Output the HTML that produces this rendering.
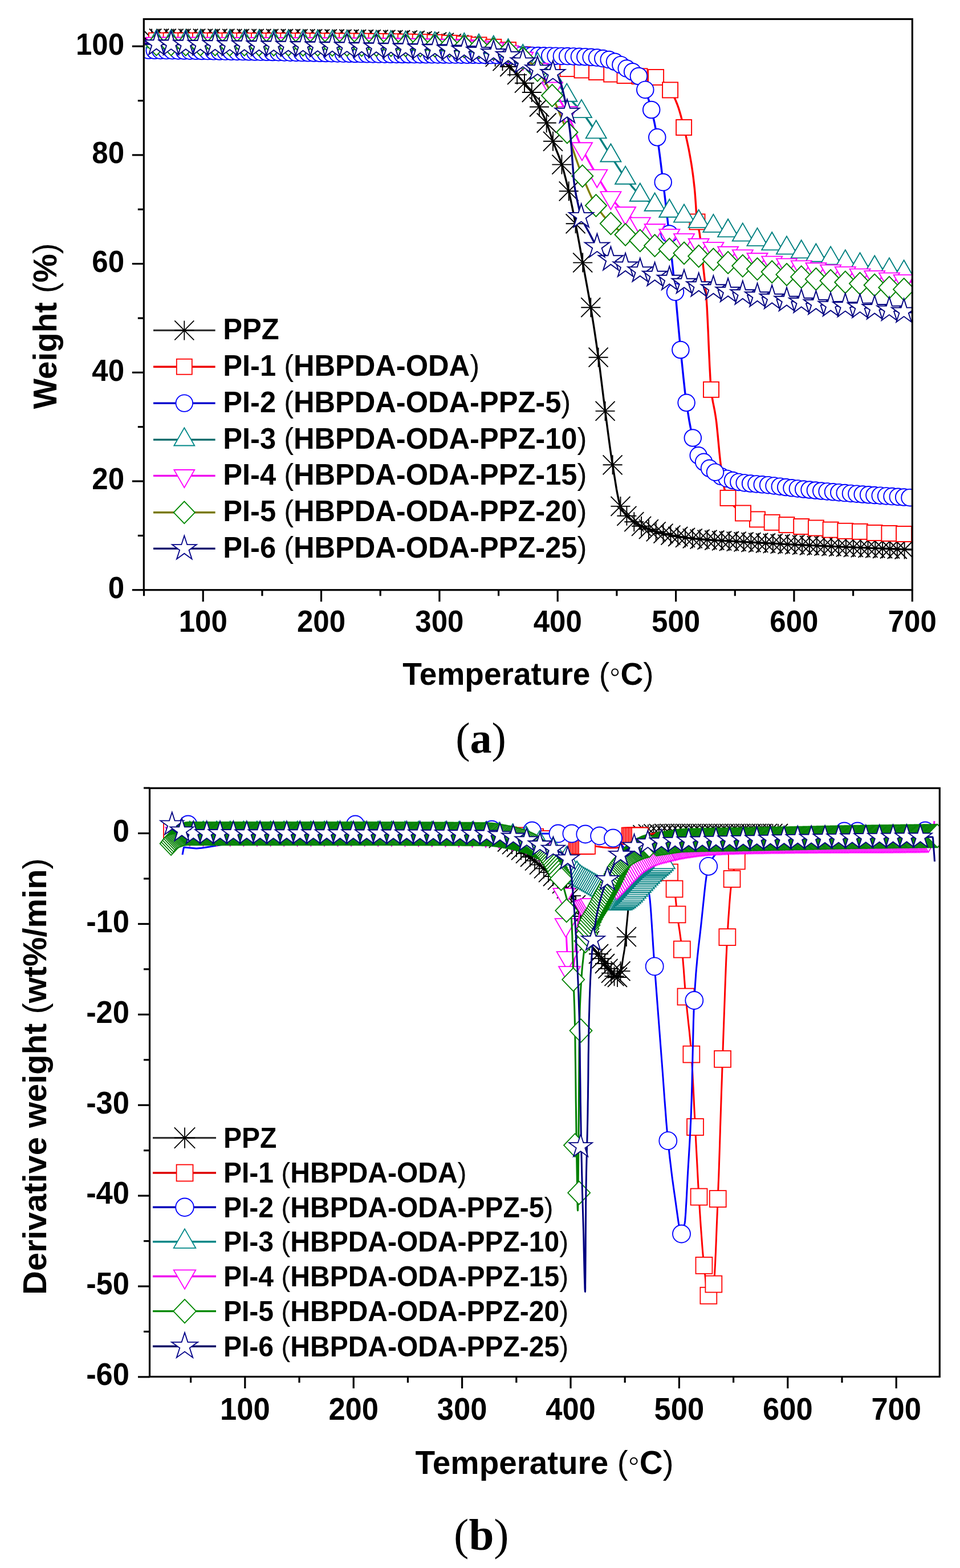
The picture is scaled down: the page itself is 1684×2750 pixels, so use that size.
<!DOCTYPE html>
<html><head><meta charset="utf-8"><title>TGA</title>
<style>html,body{margin:0;padding:0;background:#fff;} svg{display:block;}</style>
</head><body>
<svg width="1684" height="2750" viewBox="0 0 1684 2750" font-family="'Liberation Sans', Arial, sans-serif" font-weight="bold">
<rect width="1684" height="2750" fill="#fff"/><defs><g id="m0"><path d="M0.0 -17.0V17.0M-17.0 0.0H17.0M-17.0 -17.0L17.0 17.0M-17.0 17.0L17.0 -17.0" stroke="#000" stroke-width="1.9" fill="none"/></g><g id="m1"><rect x="-13.5" y="-13.5" width="27.0" height="27.0" fill="#fff" stroke="#f00" stroke-width="1.9"/></g><g id="m2"><circle cx="0.0" cy="0.0" r="14.8" fill="#fff" stroke="#00f" stroke-width="1.9"/></g><g id="m3"><polygon points="0.0,-20.8 18.0,10.4 -18.0,10.4" fill="#fff" stroke="#008080" stroke-width="1.9"/></g><g id="m4"><polygon points="0.0,20.8 18.0,-10.4 -18.0,-10.4" fill="#fff" stroke="#f0f" stroke-width="1.9"/></g><g id="m5"><polygon points="0.0,-19.4 18.6,0.0 0.0,19.4 -18.6,0.0" fill="#fff" stroke="#008000" stroke-width="1.9"/></g><g id="m6"><polygon points="0.0,-22.6 5.0,-6.9 21.5,-7.0 8.2,2.7 13.3,18.3 0.0,8.6 -13.3,18.3 -8.2,2.7 -21.5,-7.0 -5.0,-6.9" fill="#fff" stroke="#000080" stroke-width="1.9"/></g><g id="m7"><path d="M0.0 -17.0V17.0M-17.0 0.0H17.0M-17.0 -17.0L17.0 17.0M-17.0 17.0L17.0 -17.0" stroke="#000" stroke-width="1.8" fill="none"/></g><g id="m8"><rect x="-14.4" y="-14.4" width="28.9" height="28.9" fill="#fff" stroke="#f00" stroke-width="1.8"/></g><g id="m9"><circle cx="0.0" cy="0.0" r="15.5" fill="#fff" stroke="#00f" stroke-width="1.8"/></g><g id="m10"><polygon points="0.0,-21.8 18.9,10.9 -18.9,10.9" fill="#fff" stroke="#008080" stroke-width="1.8"/></g><g id="m11"><polygon points="0.0,21.8 18.9,-10.9 -18.9,-10.9" fill="#fff" stroke="#f0f" stroke-width="1.8"/></g><g id="m12"><polygon points="0.0,-20.4 19.5,0.0 0.0,20.4 -19.5,0.0" fill="#fff" stroke="#008000" stroke-width="1.8"/></g><g id="m13"><polygon points="0.0,-21.5 4.8,-6.6 20.4,-6.6 7.8,2.5 12.6,17.4 0.0,8.2 -12.6,17.4 -7.8,2.5 -20.4,-6.6 -4.8,-6.6" fill="#fff" stroke="#000080" stroke-width="1.8"/></g></defs><clipPath id="clipA"><rect x="254" y="35" width="1345" height="998"/></clipPath>
<g clip-path="url(#clipA)">
<path d="M254.0,67.5 278.0,67.5 302.0,67.6 326.0,67.6 350.0,67.7 374.0,67.7 398.0,67.7 422.0,67.8 446.0,67.8 470.0,67.9 494.0,68.0 500.0,68.0 518.0,68.1 542.0,68.2 566.0,68.3 590.0,68.5 614.0,68.7 638.0,69.0 662.0,69.4 686.0,69.7 700.0,70.0 710.0,70.3 734.0,71.4 758.0,73.0 780.0,75.0 782.0,75.2 806.0,78.7 830.0,84.0 842.0,87.8 854.0,92.8 865.0,98.0 878.0,105.0 884.5,109.2 891.0,114.0 896.5,119.2 902.0,125.3 905.8,129.6 919.8,145.5 926.0,152.9 929.9,157.8 933.7,163.4 936.8,168.7 939.9,174.7 946.0,187.5 950.0,195.8 954.4,205.2 958.7,215.5 961.5,223.1 964.4,231.3 970.0,247.8 974.0,258.3 979.7,272.5 982.5,280.2 985.4,288.6 988.5,298.9 991.5,310.3 994.6,322.5 997.7,335.3 998.0,336.6 1000.9,349.5 1003.8,363.3 1009.6,392.3 1012.7,408.5 1015.8,425.3 1022.0,459.5 1022.2,460.6 1029.2,498.9 1032.8,518.6 1036.3,539.2 1041.2,569.4 1043.6,585.2 1046.0,601.5 1049.6,626.7 1052.6,649.3 1055.6,673.2 1058.6,697.5 1061.6,720.9 1065.8,753.0 1070.0,784.5 1072.3,800.5 1074.6,815.3 1078.1,837.0 1081.5,858.1 1083.3,867.6 1085.0,875.9 1086.8,882.8 1088.5,887.9 1091.2,893.6 1094.0,898.2 1096.7,901.8 1099.4,904.8 1103.3,908.6 1107.2,911.7 1115.0,917.0 1118.0,918.9 1123.6,922.0 1129.2,924.7 1142.0,929.6 1159.0,934.6 1166.0,936.3 1190.0,941.2 1198.8,942.5 1214.0,944.3 1238.0,946.5 1238.6,946.5 1262.0,948.0 1286.0,949.3 1298.2,950.0 1310.0,950.7 1334.0,952.0 1358.0,953.3 1382.0,954.6 1400.0,955.5 1406.0,955.8 1430.0,956.9 1454.0,958.0 1478.0,959.1 1500.0,960.0 1502.0,960.1 1526.0,961.1 1550.0,962.0 1574.0,963.0 1598.0,963.9 1599.0,964.0" stroke="#000" stroke-width="3.4" fill="none" stroke-linejoin="round"/>
<use href="#m0" x="266.1" y="67.5"/><use href="#m0" x="279.0" y="67.5"/><use href="#m0" x="291.8" y="67.6"/><use href="#m0" x="304.6" y="67.6"/><use href="#m0" x="317.4" y="67.6"/><use href="#m0" x="330.2" y="67.6"/><use href="#m0" x="343.1" y="67.7"/><use href="#m0" x="355.9" y="67.7"/><use href="#m0" x="368.7" y="67.7"/><use href="#m0" x="381.5" y="67.7"/><use href="#m0" x="394.3" y="67.7"/><use href="#m0" x="407.2" y="67.8"/><use href="#m0" x="420.0" y="67.8"/><use href="#m0" x="432.8" y="67.8"/><use href="#m0" x="445.6" y="67.8"/><use href="#m0" x="458.4" y="67.9"/><use href="#m0" x="471.3" y="67.9"/><use href="#m0" x="484.1" y="67.9"/><use href="#m0" x="496.9" y="68.0"/><use href="#m0" x="509.7" y="68.0"/><use href="#m0" x="522.5" y="68.1"/><use href="#m0" x="535.4" y="68.1"/><use href="#m0" x="548.2" y="68.2"/><use href="#m0" x="561.0" y="68.3"/><use href="#m0" x="573.8" y="68.4"/><use href="#m0" x="586.6" y="68.5"/><use href="#m0" x="599.5" y="68.6"/><use href="#m0" x="612.3" y="68.7"/><use href="#m0" x="625.1" y="68.9"/><use href="#m0" x="637.9" y="69.0"/><use href="#m0" x="650.7" y="69.2"/><use href="#m0" x="663.6" y="69.4"/><use href="#m0" x="676.4" y="69.6"/><use href="#m0" x="689.2" y="69.8"/><use href="#m0" x="702.0" y="70.0"/><use href="#m0" x="714.8" y="70.4"/><use href="#m0" x="727.7" y="71.0"/><use href="#m0" x="740.5" y="71.8"/><use href="#m0" x="753.3" y="72.7"/><use href="#m0" x="766.1" y="73.7"/><use href="#m0" x="778.9" y="74.9"/><use href="#m0" x="791.8" y="76.4"/><use href="#m0" x="804.6" y="78.4"/><use href="#m0" x="817.4" y="81.0"/><use href="#m0" x="830.2" y="84.1"/><use href="#m0" x="843.0" y="88.2"/><use href="#m0" x="855.9" y="93.6"/><use href="#m0" x="868.7" y="99.8"/><use href="#m0" x="881.5" y="107.2"/><use href="#m0" x="894.3" y="117.0"/><use href="#m0" x="907.1" y="131.1"/><use href="#m0" x="920.0" y="145.7"/><use href="#m0" x="932.8" y="162.0"/><use href="#m0" x="1112.3" y="915.2"/><use href="#m0" x="1125.1" y="922.8"/><use href="#m0" x="1137.9" y="928.1"/><use href="#m0" x="1150.7" y="932.4"/><use href="#m0" x="1163.5" y="935.7"/><use href="#m0" x="1176.4" y="938.6"/><use href="#m0" x="1189.2" y="941.0"/><use href="#m0" x="1202.0" y="942.9"/><use href="#m0" x="1214.8" y="944.4"/><use href="#m0" x="1227.6" y="945.6"/><use href="#m0" x="1240.5" y="946.6"/><use href="#m0" x="1253.3" y="947.5"/><use href="#m0" x="1266.1" y="948.3"/><use href="#m0" x="1278.9" y="949.0"/><use href="#m0" x="1291.7" y="949.6"/><use href="#m0" x="1304.6" y="950.4"/><use href="#m0" x="1317.4" y="951.1"/><use href="#m0" x="1330.2" y="951.8"/><use href="#m0" x="1343.0" y="952.5"/><use href="#m0" x="1355.8" y="953.2"/><use href="#m0" x="1368.7" y="953.9"/><use href="#m0" x="1381.5" y="954.6"/><use href="#m0" x="1394.3" y="955.2"/><use href="#m0" x="1407.1" y="955.8"/><use href="#m0" x="1419.9" y="956.5"/><use href="#m0" x="1432.8" y="957.1"/><use href="#m0" x="1445.6" y="957.6"/><use href="#m0" x="1458.4" y="958.2"/><use href="#m0" x="1471.2" y="958.8"/><use href="#m0" x="1484.0" y="959.3"/><use href="#m0" x="1496.9" y="959.9"/><use href="#m0" x="1509.7" y="960.4"/><use href="#m0" x="1522.5" y="960.9"/><use href="#m0" x="1535.3" y="961.4"/><use href="#m0" x="1548.1" y="962.0"/><use href="#m0" x="1561.0" y="962.5"/><use href="#m0" x="1573.8" y="963.0"/><use href="#m0" x="1586.6" y="963.5"/><use href="#m0" x="946.0" y="187.5"/><use href="#m0" x="958.7" y="215.5"/><use href="#m0" x="970.0" y="247.8"/><use href="#m0" x="985.4" y="288.6"/><use href="#m0" x="997.7" y="335.3"/><use href="#m0" x="1009.6" y="392.3"/><use href="#m0" x="1022.2" y="460.6"/><use href="#m0" x="1036.3" y="539.2"/><use href="#m0" x="1049.6" y="626.7"/><use href="#m0" x="1061.6" y="720.9"/><use href="#m0" x="1074.6" y="815.3"/><use href="#m0" x="1088.5" y="887.9"/><use href="#m0" x="1099.4" y="904.8"/>
<path d="M254.0,71.0 278.0,71.1 302.0,71.1 326.0,71.2 350.0,71.2 374.0,71.3 398.0,71.3 422.0,71.4 446.0,71.4 470.0,71.5 494.0,71.6 518.0,71.7 542.0,71.7 566.0,71.8 590.0,71.9 600.0,72.0 614.0,72.1 638.0,72.3 662.0,72.5 686.0,72.8 710.0,73.2 734.0,73.7 750.0,74.0 758.0,74.2 782.0,75.1 806.0,76.3 830.0,78.0 854.0,80.6 878.0,84.6 880.0,85.0 891.0,87.5 902.0,90.7 926.0,98.7 930.0,100.0 950.0,107.2 970.0,114.0 974.0,115.2 985.0,118.3 996.0,120.6 998.0,120.9 1021.0,123.0 1022.0,123.1 1046.0,126.4 1046.5,126.5 1070.0,129.8 1072.7,130.1 1094.0,132.4 1096.0,132.5 1118.0,133.6 1122.0,133.8 1142.0,134.7 1150.6,135.5 1153.7,136.5 1156.8,138.4 1163.0,143.5 1166.0,146.2 1170.8,151.5 1175.6,157.9 1178.7,162.9 1181.8,168.7 1184.9,175.4 1188.0,183.0 1190.0,188.6 1192.4,196.3 1194.8,204.8 1199.6,223.5 1202.5,235.5 1205.4,248.4 1208.4,262.7 1209.8,270.4 1211.3,278.7 1212.7,286.9 1214.0,295.6 1215.1,303.2 1216.2,311.4 1217.2,320.3 1218.3,330.0 1218.9,336.3 1219.5,343.9 1220.7,360.9 1221.2,369.4 1221.8,377.3 1222.4,383.9 1223.0,389.0 1223.5,392.2 1224.0,394.9 1225.0,399.4 1226.1,403.6 1227.1,409.0 1227.9,414.8 1228.8,421.5 1229.7,428.9 1230.5,436.9 1233.9,470.4 1236.0,489.2 1237.0,498.9 1238.0,509.6 1239.0,521.5 1239.5,529.0 1240.1,537.8 1240.6,547.7 1241.1,558.4 1242.2,581.7 1243.2,606.2 1244.3,630.2 1244.8,641.5 1245.4,652.1 1245.9,661.8 1246.4,670.3 1247.0,677.6 1247.5,683.3 1248.6,692.2 1249.6,699.4 1250.7,705.6 1251.8,711.0 1253.9,721.7 1254.9,727.8 1256.0,735.0 1256.8,741.0 1257.5,747.7 1259.0,762.6 1262.0,794.3 1263.2,805.9 1264.4,816.0 1266.1,828.5 1267.7,840.3 1268.5,845.6 1269.3,850.4 1270.2,854.6 1271.0,858.0 1272.5,863.0 1274.0,867.1 1275.5,870.5 1277.0,873.4 1281.5,880.5 1286.0,886.0 1290.0,890.0 1296.8,895.6 1303.5,900.0 1310.0,903.4 1319.8,907.9 1329.7,911.2 1334.0,912.3 1355.1,916.5 1358.0,917.0 1380.6,920.7 1382.0,920.9 1406.0,923.5 1430.0,925.8 1431.5,926.0 1454.0,928.8 1458.0,929.2 1478.0,931.0 1482.4,931.3 1502.0,932.0 1510.0,932.4 1526.0,933.8 1534.3,934.5 1550.0,935.1 1560.8,935.5 1574.0,936.1 1587.3,936.6 1598.0,936.9 1599.0,937.0" stroke="#f00" stroke-width="3.4" fill="none" stroke-linejoin="round"/>
<use href="#m1" x="274.4" y="71.1"/><use href="#m1" x="300.1" y="71.1"/><use href="#m1" x="325.8" y="71.2"/><use href="#m1" x="351.5" y="71.2"/><use href="#m1" x="377.3" y="71.3"/><use href="#m1" x="403.0" y="71.3"/><use href="#m1" x="428.7" y="71.4"/><use href="#m1" x="454.4" y="71.5"/><use href="#m1" x="480.1" y="71.5"/><use href="#m1" x="505.8" y="71.6"/><use href="#m1" x="531.5" y="71.7"/><use href="#m1" x="557.2" y="71.8"/><use href="#m1" x="582.9" y="71.9"/><use href="#m1" x="608.6" y="72.0"/><use href="#m1" x="634.4" y="72.2"/><use href="#m1" x="660.1" y="72.5"/><use href="#m1" x="685.8" y="72.8"/><use href="#m1" x="711.5" y="73.2"/><use href="#m1" x="737.2" y="73.7"/><use href="#m1" x="762.9" y="74.3"/><use href="#m1" x="788.6" y="75.4"/><use href="#m1" x="814.3" y="76.9"/><use href="#m1" x="840.0" y="78.9"/><use href="#m1" x="865.8" y="82.4"/><use href="#m1" x="891.5" y="87.6"/><use href="#m1" x="917.2" y="95.7"/><use href="#m1" x="942.9" y="104.5"/><use href="#m1" x="968.6" y="113.6"/><use href="#m1" x="1328.5" y="910.9"/><use href="#m1" x="1354.2" y="916.3"/><use href="#m1" x="1380.0" y="920.6"/><use href="#m1" x="1405.7" y="923.5"/><use href="#m1" x="1431.4" y="926.0"/><use href="#m1" x="1457.1" y="929.1"/><use href="#m1" x="1482.8" y="931.3"/><use href="#m1" x="1508.5" y="932.3"/><use href="#m1" x="1534.2" y="934.5"/><use href="#m1" x="1559.9" y="935.5"/><use href="#m1" x="1585.6" y="936.5"/><use href="#m1" x="996.0" y="120.6"/><use href="#m1" x="1021.0" y="123.0"/><use href="#m1" x="1046.5" y="126.5"/><use href="#m1" x="1072.7" y="130.1"/><use href="#m1" x="1096.0" y="132.5"/><use href="#m1" x="1122.0" y="133.8"/><use href="#m1" x="1150.6" y="135.5"/><use href="#m1" x="1175.6" y="157.9"/><use href="#m1" x="1199.6" y="223.5"/><use href="#m1" x="1223.0" y="389.0"/><use href="#m1" x="1247.5" y="683.3"/><use href="#m1" x="1277.0" y="873.4"/><use href="#m1" x="1303.5" y="900.0"/>
<path d="M254.0,88.0 278.0,88.4 302.0,88.7 326.0,89.1 350.0,89.4 374.0,89.8 398.0,90.2 422.0,90.5 446.0,90.9 450.0,91.0 470.0,91.4 494.0,91.8 518.0,92.3 542.0,92.9 566.0,93.4 590.0,93.9 614.0,94.3 638.0,94.7 660.0,95.0 662.0,95.0 686.0,95.3 710.0,95.5 734.0,95.7 758.0,95.9 782.0,96.0 806.0,96.2 830.0,96.3 854.0,96.5 878.0,96.8 900.0,97.0 902.0,97.0 926.0,97.3 950.0,97.7 974.0,98.1 990.0,98.5 998.0,98.7 1022.0,99.5 1040.0,100.5 1046.0,101.0 1058.0,102.6 1070.0,105.0 1077.7,107.9 1085.4,111.8 1094.0,116.8 1101.3,121.4 1109.7,125.9 1113.8,128.2 1118.0,131.3 1120.4,133.5 1121.8,135.2 1123.2,137.5 1126.1,143.3 1131.8,157.4 1134.3,164.3 1136.9,172.0 1139.5,180.6 1142.0,189.8 1142.7,192.5 1145.2,202.8 1147.8,214.1 1150.3,226.8 1152.8,240.8 1154.1,248.9 1155.4,257.7 1156.7,267.2 1158.0,277.2 1163.2,319.6 1166.0,342.8 1170.6,382.4 1175.2,423.8 1179.9,467.0 1184.5,512.1 1185.9,526.2 1187.2,541.1 1190.0,571.8 1192.0,593.3 1193.9,613.5 1196.5,638.9 1199.0,663.7 1200.3,675.5 1201.5,686.6 1202.8,697.0 1204.1,706.3 1206.6,722.7 1209.0,737.6 1211.5,750.9 1214.0,762.6 1215.3,768.0 1217.8,777.5 1220.2,786.1 1222.7,793.4 1224.0,796.4 1225.2,798.8 1227.6,802.4 1229.9,805.2 1234.6,810.3 1238.0,814.4 1241.2,818.1 1244.5,821.3 1254.5,828.2 1262.0,833.8 1264.4,835.2 1274.4,839.2 1284.3,842.1 1286.0,842.6 1294.2,845.1 1310.0,847.3 1334.0,849.5 1350.0,851.0 1358.0,851.9 1382.0,854.9 1400.0,857.0 1406.0,857.6 1430.0,860.0 1454.0,862.2 1478.0,864.2 1500.0,866.0 1502.0,866.2 1526.0,867.9 1550.0,869.6 1574.0,871.2 1598.0,872.9 1599.0,872.9" stroke="#00f" stroke-width="3.4" fill="none" stroke-linejoin="round"/>
<use href="#m2" x="260.9" y="88.1"/><use href="#m2" x="271.2" y="88.3"/><use href="#m2" x="281.6" y="88.4"/><use href="#m2" x="291.9" y="88.6"/><use href="#m2" x="302.3" y="88.7"/><use href="#m2" x="312.6" y="88.9"/><use href="#m2" x="323.0" y="89.0"/><use href="#m2" x="333.3" y="89.2"/><use href="#m2" x="343.7" y="89.3"/><use href="#m2" x="354.0" y="89.5"/><use href="#m2" x="364.4" y="89.6"/><use href="#m2" x="374.7" y="89.8"/><use href="#m2" x="385.1" y="90.0"/><use href="#m2" x="395.4" y="90.1"/><use href="#m2" x="405.8" y="90.3"/><use href="#m2" x="416.1" y="90.4"/><use href="#m2" x="426.5" y="90.6"/><use href="#m2" x="436.8" y="90.8"/><use href="#m2" x="447.2" y="91.0"/><use href="#m2" x="457.5" y="91.1"/><use href="#m2" x="467.9" y="91.3"/><use href="#m2" x="478.2" y="91.5"/><use href="#m2" x="488.6" y="91.7"/><use href="#m2" x="498.9" y="91.9"/><use href="#m2" x="509.3" y="92.2"/><use href="#m2" x="519.6" y="92.4"/><use href="#m2" x="530.0" y="92.6"/><use href="#m2" x="540.3" y="92.8"/><use href="#m2" x="550.7" y="93.0"/><use href="#m2" x="561.0" y="93.3"/><use href="#m2" x="571.4" y="93.5"/><use href="#m2" x="581.7" y="93.7"/><use href="#m2" x="592.1" y="93.9"/><use href="#m2" x="602.4" y="94.1"/><use href="#m2" x="612.8" y="94.3"/><use href="#m2" x="623.1" y="94.5"/><use href="#m2" x="633.5" y="94.6"/><use href="#m2" x="643.8" y="94.8"/><use href="#m2" x="654.2" y="94.9"/><use href="#m2" x="664.5" y="95.1"/><use href="#m2" x="674.9" y="95.2"/><use href="#m2" x="685.2" y="95.3"/><use href="#m2" x="695.6" y="95.4"/><use href="#m2" x="705.9" y="95.5"/><use href="#m2" x="716.3" y="95.5"/><use href="#m2" x="726.6" y="95.6"/><use href="#m2" x="737.0" y="95.7"/><use href="#m2" x="747.3" y="95.8"/><use href="#m2" x="757.7" y="95.8"/><use href="#m2" x="768.0" y="95.9"/><use href="#m2" x="778.4" y="96.0"/><use href="#m2" x="788.7" y="96.1"/><use href="#m2" x="799.1" y="96.1"/><use href="#m2" x="809.4" y="96.2"/><use href="#m2" x="819.8" y="96.3"/><use href="#m2" x="830.1" y="96.3"/><use href="#m2" x="840.5" y="96.4"/><use href="#m2" x="850.8" y="96.5"/><use href="#m2" x="861.2" y="96.6"/><use href="#m2" x="871.5" y="96.7"/><use href="#m2" x="881.9" y="96.8"/><use href="#m2" x="892.2" y="96.9"/><use href="#m2" x="902.6" y="97.0"/><use href="#m2" x="912.9" y="97.2"/><use href="#m2" x="923.3" y="97.3"/><use href="#m2" x="933.6" y="97.4"/><use href="#m2" x="944.0" y="97.6"/><use href="#m2" x="954.3" y="97.8"/><use href="#m2" x="964.7" y="97.9"/><use href="#m2" x="975.0" y="98.2"/><use href="#m2" x="985.4" y="98.4"/><use href="#m2" x="995.7" y="98.6"/><use href="#m2" x="1006.1" y="98.9"/><use href="#m2" x="1016.4" y="99.3"/><use href="#m2" x="1026.8" y="99.7"/><use href="#m2" x="1037.1" y="100.3"/><use href="#m2" x="1047.5" y="101.1"/><use href="#m2" x="1057.8" y="102.6"/><use href="#m2" x="1068.2" y="104.6"/><use href="#m2" x="1078.5" y="108.3"/><use href="#m2" x="1088.9" y="113.7"/><use href="#m2" x="1099.2" y="120.1"/><use href="#m2" x="1109.6" y="125.8"/><use href="#m2" x="1264.8" y="835.4"/><use href="#m2" x="1275.2" y="839.4"/><use href="#m2" x="1285.5" y="842.5"/><use href="#m2" x="1295.9" y="845.4"/><use href="#m2" x="1306.2" y="846.9"/><use href="#m2" x="1316.6" y="848.0"/><use href="#m2" x="1326.9" y="848.9"/><use href="#m2" x="1337.2" y="849.8"/><use href="#m2" x="1347.6" y="850.7"/><use href="#m2" x="1358.0" y="851.9"/><use href="#m2" x="1368.3" y="853.2"/><use href="#m2" x="1378.7" y="854.5"/><use href="#m2" x="1389.0" y="855.8"/><use href="#m2" x="1399.4" y="856.9"/><use href="#m2" x="1409.7" y="858.0"/><use href="#m2" x="1420.1" y="859.0"/><use href="#m2" x="1430.4" y="860.0"/><use href="#m2" x="1440.8" y="861.0"/><use href="#m2" x="1451.1" y="861.9"/><use href="#m2" x="1461.5" y="862.8"/><use href="#m2" x="1471.8" y="863.7"/><use href="#m2" x="1482.2" y="864.6"/><use href="#m2" x="1492.5" y="865.4"/><use href="#m2" x="1502.9" y="866.2"/><use href="#m2" x="1513.2" y="867.0"/><use href="#m2" x="1523.6" y="867.8"/><use href="#m2" x="1533.9" y="868.5"/><use href="#m2" x="1544.2" y="869.2"/><use href="#m2" x="1554.6" y="869.9"/><use href="#m2" x="1565.0" y="870.6"/><use href="#m2" x="1575.3" y="871.3"/><use href="#m2" x="1585.7" y="872.0"/><use href="#m2" x="1596.0" y="872.7"/><use href="#m2" x="1120.4" y="133.5"/><use href="#m2" x="1131.8" y="157.4"/><use href="#m2" x="1142.7" y="192.5"/><use href="#m2" x="1152.8" y="240.8"/><use href="#m2" x="1163.2" y="319.6"/><use href="#m2" x="1174.0" y="410.0"/><use href="#m2" x="1184.5" y="512.1"/><use href="#m2" x="1193.9" y="613.5"/><use href="#m2" x="1204.1" y="706.3"/><use href="#m2" x="1215.3" y="768.0"/><use href="#m2" x="1225.2" y="798.8"/><use href="#m2" x="1234.6" y="810.3"/><use href="#m2" x="1244.5" y="821.3"/><use href="#m2" x="1254.5" y="828.2"/>
<path d="M254.0,73.0 278.0,73.1 302.0,73.1 326.0,73.2 350.0,73.2 374.0,73.3 398.0,73.3 422.0,73.4 446.0,73.4 470.0,73.5 494.0,73.6 518.0,73.6 542.0,73.7 566.0,73.8 590.0,73.9 600.0,74.0 614.0,74.1 638.0,74.3 662.0,74.6 686.0,75.0 710.0,75.4 734.0,76.0 758.0,76.6 782.0,77.4 800.0,78.0 806.0,78.2 830.0,79.7 854.0,82.0 870.0,84.0 878.0,85.4 890.0,88.6 902.0,92.7 920.0,100.0 926.0,102.8 938.0,109.7 950.0,118.0 956.0,122.8 962.0,128.3 974.0,140.9 975.0,142.0 994.3,167.4 998.0,171.7 1009.6,184.1 1015.4,190.4 1021.2,197.2 1022.0,198.2 1028.0,206.1 1034.0,214.6 1046.0,232.4 1070.0,270.9 1071.8,273.7 1082.9,291.3 1094.0,308.1 1098.7,314.5 1108.3,326.8 1118.0,337.7 1124.5,343.7 1133.2,350.2 1142.0,355.7 1150.7,360.4 1166.0,367.2 1175.5,370.8 1190.0,375.8 1201.4,379.7 1214.0,384.4 1227.2,389.2 1238.0,392.6 1253.1,397.2 1262.0,400.1 1278.9,405.5 1286.0,407.5 1303.8,412.5 1310.0,414.5 1329.6,421.0 1334.0,422.3 1355.5,428.4 1358.0,429.1 1380.8,435.4 1382.0,435.7 1406.0,442.1 1406.7,442.3 1430.0,448.0 1431.5,448.3 1454.0,452.6 1457.4,453.3 1478.0,458.1 1483.2,459.2 1502.0,462.9 1509.0,464.2 1526.0,467.6 1534.9,469.2 1550.0,471.6 1559.7,473.1 1574.0,475.3 1585.6,477.1 1598.0,479.0 1599.0,479.1" stroke="#008080" stroke-width="3.4" fill="none" stroke-linejoin="round"/>
<use href="#m3" x="274.4" y="73.1"/><use href="#m3" x="300.1" y="73.1"/><use href="#m3" x="325.8" y="73.2"/><use href="#m3" x="351.5" y="73.2"/><use href="#m3" x="377.3" y="73.3"/><use href="#m3" x="403.0" y="73.3"/><use href="#m3" x="428.7" y="73.4"/><use href="#m3" x="454.4" y="73.5"/><use href="#m3" x="480.1" y="73.5"/><use href="#m3" x="505.8" y="73.6"/><use href="#m3" x="531.5" y="73.7"/><use href="#m3" x="557.2" y="73.8"/><use href="#m3" x="582.9" y="73.9"/><use href="#m3" x="608.6" y="74.1"/><use href="#m3" x="634.4" y="74.3"/><use href="#m3" x="660.1" y="74.6"/><use href="#m3" x="685.8" y="75.0"/><use href="#m3" x="711.5" y="75.5"/><use href="#m3" x="737.2" y="76.1"/><use href="#m3" x="762.9" y="76.8"/><use href="#m3" x="788.6" y="77.6"/><use href="#m3" x="814.3" y="78.7"/><use href="#m3" x="840.0" y="80.5"/><use href="#m3" x="865.8" y="83.4"/><use href="#m3" x="891.5" y="89.0"/><use href="#m3" x="917.2" y="98.8"/><use href="#m3" x="942.9" y="112.9"/><use href="#m3" x="968.6" y="135.0"/><use href="#m3" x="994.3" y="167.4"/><use href="#m3" x="1020.0" y="195.7"/><use href="#m3" x="1045.7" y="232.0"/><use href="#m3" x="1071.4" y="273.1"/><use href="#m3" x="1097.1" y="312.4"/><use href="#m3" x="1122.8" y="342.3"/><use href="#m3" x="1148.6" y="359.3"/><use href="#m3" x="1174.3" y="370.3"/><use href="#m3" x="1200.0" y="379.2"/><use href="#m3" x="1225.7" y="388.7"/><use href="#m3" x="1251.4" y="396.7"/><use href="#m3" x="1277.1" y="405.0"/><use href="#m3" x="1302.8" y="412.2"/><use href="#m3" x="1328.5" y="420.7"/><use href="#m3" x="1354.2" y="428.0"/><use href="#m3" x="1380.0" y="435.2"/><use href="#m3" x="1405.7" y="442.0"/><use href="#m3" x="1431.4" y="448.3"/><use href="#m3" x="1457.1" y="453.2"/><use href="#m3" x="1482.8" y="459.1"/><use href="#m3" x="1508.5" y="464.1"/><use href="#m3" x="1534.2" y="469.1"/><use href="#m3" x="1559.9" y="473.1"/><use href="#m3" x="1585.6" y="477.1"/>
<path d="M254.0,76.0 278.0,76.1 302.0,76.1 326.0,76.2 350.0,76.2 374.0,76.3 398.0,76.3 422.0,76.4 446.0,76.4 470.0,76.5 494.0,76.6 518.0,76.7 542.0,76.7 566.0,76.8 590.0,76.9 600.0,77.0 614.0,77.1 638.0,77.2 662.0,77.5 686.0,77.7 710.0,78.0 734.0,78.4 758.0,78.9 782.0,79.5 800.0,80.0 806.0,80.2 830.0,81.7 854.0,84.2 878.0,87.7 880.0,88.0 891.0,90.6 902.0,94.7 914.0,100.5 926.0,107.4 930.0,110.0 935.0,113.8 940.0,118.5 945.0,124.0 950.0,130.1 965.0,150.0 974.0,162.8 979.1,170.7 984.1,179.1 989.2,188.0 994.3,197.5 998.0,205.1 1003.8,218.6 1009.5,233.0 1015.2,247.2 1021.0,260.0 1022.0,262.0 1028.0,273.8 1034.0,284.9 1046.0,305.8 1047.3,308.0 1058.7,327.2 1064.3,336.3 1070.0,344.6 1073.0,348.5 1083.5,360.6 1094.0,371.0 1099.5,375.7 1108.8,382.8 1118.0,389.1 1127.0,394.3 1142.0,401.0 1149.7,404.0 1166.0,409.8 1175.5,412.9 1190.0,417.4 1201.4,421.0 1214.0,425.3 1227.5,429.6 1238.0,432.3 1253.4,436.0 1262.0,438.6 1278.1,443.4 1286.0,445.3 1303.8,449.0 1310.0,450.4 1334.0,455.8 1354.5,460.0 1358.0,460.6 1380.0,464.0 1382.0,464.3 1406.0,467.9 1430.0,471.4 1431.0,471.5 1454.0,474.6 1478.0,477.8 1483.0,478.5 1502.0,481.1 1526.0,484.4 1534.0,485.5 1550.0,487.7 1574.0,491.0 1598.0,494.2 1599.0,494.4" stroke="#f0f" stroke-width="3.4" fill="none" stroke-linejoin="round"/>
<use href="#m4" x="274.4" y="76.1"/><use href="#m4" x="300.1" y="76.1"/><use href="#m4" x="325.8" y="76.2"/><use href="#m4" x="351.5" y="76.2"/><use href="#m4" x="377.3" y="76.3"/><use href="#m4" x="403.0" y="76.3"/><use href="#m4" x="428.7" y="76.4"/><use href="#m4" x="454.4" y="76.5"/><use href="#m4" x="480.1" y="76.5"/><use href="#m4" x="505.8" y="76.6"/><use href="#m4" x="531.5" y="76.7"/><use href="#m4" x="557.2" y="76.8"/><use href="#m4" x="582.9" y="76.9"/><use href="#m4" x="608.6" y="77.0"/><use href="#m4" x="634.4" y="77.2"/><use href="#m4" x="660.1" y="77.4"/><use href="#m4" x="685.8" y="77.7"/><use href="#m4" x="711.5" y="78.1"/><use href="#m4" x="737.2" y="78.5"/><use href="#m4" x="762.9" y="79.0"/><use href="#m4" x="788.6" y="79.7"/><use href="#m4" x="814.3" y="80.6"/><use href="#m4" x="840.0" y="82.6"/><use href="#m4" x="865.8" y="85.7"/><use href="#m4" x="891.5" y="90.8"/><use href="#m4" x="917.2" y="102.2"/><use href="#m4" x="942.9" y="121.6"/><use href="#m4" x="968.6" y="154.9"/><use href="#m4" x="1071.4" y="346.5"/><use href="#m4" x="1097.1" y="373.7"/><use href="#m4" x="1122.8" y="392.0"/><use href="#m4" x="1148.6" y="403.6"/><use href="#m4" x="1174.3" y="412.5"/><use href="#m4" x="1200.0" y="420.5"/><use href="#m4" x="1225.7" y="429.1"/><use href="#m4" x="1251.4" y="435.5"/><use href="#m4" x="1277.1" y="443.1"/><use href="#m4" x="1302.8" y="448.8"/><use href="#m4" x="1328.5" y="454.6"/><use href="#m4" x="1354.2" y="460.0"/><use href="#m4" x="1380.0" y="464.0"/><use href="#m4" x="1405.7" y="467.8"/><use href="#m4" x="1431.4" y="471.6"/><use href="#m4" x="1457.1" y="475.0"/><use href="#m4" x="1482.8" y="478.5"/><use href="#m4" x="1508.5" y="482.0"/><use href="#m4" x="1534.2" y="485.5"/><use href="#m4" x="1559.9" y="489.0"/><use href="#m4" x="1585.6" y="492.5"/><use href="#m4" x="994.3" y="197.5"/><use href="#m4" x="1021.0" y="260.6"/><use href="#m4" x="1047.3" y="308.0"/>
<path d="M254.0,78.0 278.0,78.1 302.0,78.1 326.0,78.2 350.0,78.2 374.0,78.3 398.0,78.4 422.0,78.4 446.0,78.5 470.0,78.5 494.0,78.6 518.0,78.7 542.0,78.8 566.0,78.9 590.0,79.0 600.0,79.0 614.0,79.1 638.0,79.2 662.0,79.3 686.0,79.5 710.0,79.7 734.0,80.0 758.0,80.3 782.0,80.7 800.0,81.0 806.0,81.2 830.0,82.4 854.0,84.6 878.0,87.7 880.0,88.0 891.0,90.5 902.0,94.3 914.0,100.1 926.0,107.3 930.0,110.0 935.0,114.2 940.0,119.7 945.0,126.2 950.0,133.6 960.0,150.0 963.5,156.5 967.0,163.9 974.0,180.5 980.0,195.0 987.5,212.9 994.9,232.0 998.0,240.8 1009.3,275.0 1015.5,292.5 1021.7,308.7 1022.0,309.4 1027.9,323.8 1033.8,337.6 1039.6,350.1 1042.6,355.6 1045.5,360.5 1046.0,361.3 1052.0,370.0 1058.0,377.8 1064.0,384.6 1070.0,390.7 1073.3,393.8 1083.7,402.5 1094.0,409.6 1099.1,412.5 1108.5,416.8 1118.0,420.3 1125.0,422.8 1142.0,428.7 1150.7,431.4 1166.0,435.3 1176.5,437.8 1190.0,441.4 1202.4,444.5 1214.0,447.0 1227.5,449.7 1238.0,452.0 1253.4,455.5 1262.0,457.4 1278.9,461.0 1286.0,462.6 1303.8,466.5 1310.0,467.8 1329.6,472.0 1334.0,472.9 1355.5,477.0 1358.0,477.5 1380.3,481.5 1382.0,481.8 1406.0,485.7 1430.0,489.2 1431.5,489.4 1454.0,492.0 1478.0,494.5 1483.0,495.0 1502.0,496.8 1526.0,499.0 1534.3,500.0 1550.0,502.6 1559.8,504.2 1574.0,506.0 1586.7,507.5 1598.0,508.8 1599.0,508.9" stroke="#808000" stroke-width="3.4" fill="none" stroke-linejoin="round"/>
<use href="#m5" x="274.4" y="78.1"/><use href="#m5" x="300.1" y="78.1"/><use href="#m5" x="325.8" y="78.2"/><use href="#m5" x="351.5" y="78.2"/><use href="#m5" x="377.3" y="78.3"/><use href="#m5" x="403.0" y="78.4"/><use href="#m5" x="428.7" y="78.4"/><use href="#m5" x="454.4" y="78.5"/><use href="#m5" x="480.1" y="78.6"/><use href="#m5" x="505.8" y="78.6"/><use href="#m5" x="531.5" y="78.7"/><use href="#m5" x="557.2" y="78.8"/><use href="#m5" x="582.9" y="78.9"/><use href="#m5" x="608.6" y="79.0"/><use href="#m5" x="634.4" y="79.2"/><use href="#m5" x="660.1" y="79.3"/><use href="#m5" x="685.8" y="79.5"/><use href="#m5" x="711.5" y="79.7"/><use href="#m5" x="737.2" y="80.0"/><use href="#m5" x="762.9" y="80.3"/><use href="#m5" x="788.6" y="80.8"/><use href="#m5" x="814.3" y="81.5"/><use href="#m5" x="840.0" y="83.2"/><use href="#m5" x="865.8" y="86.0"/><use href="#m5" x="891.5" y="90.6"/><use href="#m5" x="917.2" y="101.9"/><use href="#m5" x="942.9" y="123.3"/><use href="#m5" x="968.6" y="167.6"/><use href="#m5" x="1071.4" y="392.1"/><use href="#m5" x="1097.1" y="411.5"/><use href="#m5" x="1122.8" y="422.0"/><use href="#m5" x="1148.6" y="430.8"/><use href="#m5" x="1174.3" y="437.2"/><use href="#m5" x="1200.0" y="443.9"/><use href="#m5" x="1225.7" y="449.3"/><use href="#m5" x="1251.4" y="455.1"/><use href="#m5" x="1277.1" y="460.6"/><use href="#m5" x="1302.8" y="466.3"/><use href="#m5" x="1328.5" y="471.8"/><use href="#m5" x="1354.2" y="476.8"/><use href="#m5" x="1380.0" y="481.4"/><use href="#m5" x="1405.7" y="485.7"/><use href="#m5" x="1431.4" y="489.4"/><use href="#m5" x="1457.1" y="492.3"/><use href="#m5" x="1482.8" y="495.0"/><use href="#m5" x="1508.5" y="497.3"/><use href="#m5" x="1534.2" y="500.0"/><use href="#m5" x="1559.9" y="504.2"/><use href="#m5" x="1585.6" y="507.4"/><use href="#m5" x="994.9" y="232.0"/><use href="#m5" x="1021.7" y="308.7"/><use href="#m5" x="1045.5" y="360.5"/>
<path d="M254.0,77.0 278.0,77.2 302.0,77.5 326.0,77.7 350.0,77.9 374.0,78.2 398.0,78.4 422.0,78.7 446.0,78.9 450.0,79.0 470.0,79.3 494.0,79.6 518.0,80.0 542.0,80.3 566.0,80.8 590.0,81.2 614.0,81.6 638.0,82.1 660.0,82.6 662.0,82.6 686.0,83.2 710.0,83.7 734.0,84.4 758.0,85.2 780.0,86.0 782.0,86.1 806.0,87.4 830.0,89.1 850.0,91.0 854.0,91.4 878.0,94.8 892.0,97.8 902.0,101.2 919.8,109.7 926.0,112.8 934.8,117.6 943.6,121.6 950.0,123.5 960.0,125.7 964.9,127.0 969.9,129.0 974.0,131.5 978.0,135.4 982.0,141.0 983.5,144.5 985.0,149.7 988.0,162.0 989.7,169.5 991.5,177.8 993.2,186.8 994.9,196.7 996.5,206.1 998.0,216.3 999.5,227.2 1000.2,233.3 1000.9,240.0 1001.3,244.3 1001.7,249.3 1002.5,260.5 1003.4,272.4 1004.2,283.8 1005.7,303.9 1006.4,313.1 1006.7,317.1 1007.1,320.4 1007.9,326.7 1008.8,332.2 1010.4,341.6 1013.7,356.9 1016.7,369.8 1018.1,375.3 1019.6,380.0 1022.0,386.2 1024.8,392.4 1027.7,397.8 1033.4,408.0 1039.7,420.1 1042.8,425.7 1046.0,430.6 1047.4,432.5 1053.1,439.1 1058.7,445.0 1064.3,450.0 1070.0,454.2 1073.3,456.3 1083.7,461.3 1094.0,465.3 1098.4,466.9 1118.0,473.7 1123.6,475.5 1142.0,480.8 1150.0,483.0 1166.0,487.4 1176.0,490.0 1190.0,493.3 1202.0,496.0 1214.0,498.6 1227.7,501.5 1238.0,503.6 1253.5,506.5 1262.0,508.0 1279.3,511.0 1286.0,512.2 1305.0,515.5 1310.0,516.3 1330.9,519.5 1334.0,519.9 1356.7,523.0 1358.0,523.2 1380.8,526.8 1382.0,527.0 1406.0,529.7 1406.7,529.8 1430.0,532.5 1432.5,532.8 1454.0,535.5 1457.4,535.8 1478.0,536.8 1483.2,537.0 1502.0,538.0 1509.0,538.5 1526.0,540.1 1534.9,541.0 1550.0,542.5 1559.7,543.5 1574.0,545.2 1585.6,546.5 1598.0,547.8 1599.0,547.9" stroke="#000080" stroke-width="3.4" fill="none" stroke-linejoin="round"/>
<use href="#m6" x="274.4" y="77.2"/><use href="#m6" x="300.1" y="77.5"/><use href="#m6" x="325.8" y="77.7"/><use href="#m6" x="351.5" y="77.9"/><use href="#m6" x="377.3" y="78.2"/><use href="#m6" x="403.0" y="78.5"/><use href="#m6" x="428.7" y="78.7"/><use href="#m6" x="454.4" y="79.1"/><use href="#m6" x="480.1" y="79.4"/><use href="#m6" x="505.8" y="79.8"/><use href="#m6" x="531.5" y="80.2"/><use href="#m6" x="557.2" y="80.6"/><use href="#m6" x="582.9" y="81.1"/><use href="#m6" x="608.6" y="81.5"/><use href="#m6" x="634.4" y="82.1"/><use href="#m6" x="660.1" y="82.6"/><use href="#m6" x="685.8" y="83.2"/><use href="#m6" x="711.5" y="83.8"/><use href="#m6" x="737.2" y="84.5"/><use href="#m6" x="762.9" y="85.3"/><use href="#m6" x="788.6" y="86.4"/><use href="#m6" x="814.3" y="87.9"/><use href="#m6" x="840.0" y="90.0"/><use href="#m6" x="865.8" y="92.9"/><use href="#m6" x="891.5" y="97.7"/><use href="#m6" x="917.2" y="108.5"/><use href="#m6" x="942.9" y="121.3"/><use href="#m6" x="1071.4" y="455.2"/><use href="#m6" x="1097.1" y="466.4"/><use href="#m6" x="1122.8" y="475.3"/><use href="#m6" x="1148.6" y="482.6"/><use href="#m6" x="1174.3" y="489.6"/><use href="#m6" x="1200.0" y="495.6"/><use href="#m6" x="1225.7" y="501.1"/><use href="#m6" x="1251.4" y="506.1"/><use href="#m6" x="1277.1" y="510.6"/><use href="#m6" x="1302.8" y="515.1"/><use href="#m6" x="1328.5" y="519.2"/><use href="#m6" x="1354.2" y="522.6"/><use href="#m6" x="1380.0" y="526.7"/><use href="#m6" x="1405.7" y="529.7"/><use href="#m6" x="1431.4" y="532.7"/><use href="#m6" x="1457.1" y="535.8"/><use href="#m6" x="1482.8" y="537.0"/><use href="#m6" x="1508.5" y="538.5"/><use href="#m6" x="1534.2" y="540.9"/><use href="#m6" x="1559.9" y="543.5"/><use href="#m6" x="1585.6" y="546.5"/><use href="#m6" x="969.9" y="129.0"/><use href="#m6" x="994.9" y="196.7"/><use href="#m6" x="1019.6" y="380.0"/><use href="#m6" x="1047.4" y="432.5"/>
</g>
<clipPath id="clipB"><rect x="264" y="1384" width="1383" height="1029"/></clipPath>
<g clip-path="url(#clipB)">
<path d="M296.0,1462.0 320.0,1462.0 344.0,1462.0 368.0,1462.0 392.0,1462.0 416.0,1462.0 440.0,1462.0 464.0,1462.0 488.0,1462.0 512.0,1462.0 536.0,1462.0 560.0,1462.0 584.0,1462.0 600.0,1462.0 608.0,1462.0 632.0,1462.0 656.0,1462.0 680.0,1462.0 704.0,1462.0 728.0,1462.0 752.0,1462.0 776.0,1462.0 800.0,1462.0 824.0,1462.5 848.0,1463.9 850.0,1464.0 861.0,1465.8 872.0,1469.2 880.0,1472.0 888.0,1475.5 896.0,1479.9 906.0,1486.0 920.0,1495.5 930.0,1503.0 944.0,1514.8 950.0,1520.0 968.0,1535.3 970.0,1537.0 981.0,1545.7 986.5,1550.4 992.0,1556.0 995.4,1560.4 998.9,1565.7 1005.7,1578.0 1008.3,1583.3 1010.9,1589.2 1016.0,1602.0 1020.0,1612.0 1024.7,1624.6 1029.5,1638.1 1031.8,1644.6 1034.2,1650.5 1036.5,1655.8 1038.9,1660.0 1040.0,1661.6 1050.0,1673.0 1054.0,1678.7 1058.0,1685.0 1064.0,1695.0 1070.0,1704.0 1073.0,1707.9 1076.0,1711.0 1079.0,1713.3 1080.5,1714.2 1082.0,1714.5 1083.2,1713.8 1084.5,1712.0 1087.0,1707.0 1088.0,1704.6 1089.0,1701.7 1090.0,1698.0 1090.8,1694.3 1091.5,1689.6 1093.0,1679.5 1094.6,1670.4 1095.4,1665.5 1096.2,1659.6 1096.5,1656.4 1096.9,1652.7 1097.6,1644.0 1098.2,1634.8 1098.9,1626.5 1099.6,1619.8 1100.2,1613.7 1100.8,1607.3 1101.5,1600.0 1102.1,1591.2 1102.8,1581.1 1104.0,1560.0 1105.2,1538.9 1105.9,1528.8 1106.5,1520.0 1107.4,1509.0 1108.2,1498.7 1108.7,1494.2 1109.1,1490.3 1109.6,1487.2 1110.0,1485.0 1112.0,1478.2 1113.5,1474.3 1115.0,1471.4 1116.5,1469.3 1118.0,1468.0 1122.2,1465.9 1126.5,1464.4 1135.0,1463.0 1136.0,1462.9 1160.0,1462.0 1165.0,1462.0 1184.0,1462.0 1208.0,1462.0 1232.0,1462.0 1256.0,1462.0 1280.0,1462.0 1304.0,1462.0 1328.0,1462.0 1352.0,1462.0 1366.0,1462.0 1376.0,1462.6 1388.0,1464.1 1400.0,1465.0 1424.0,1465.2 1448.0,1465.4 1472.0,1465.5 1496.0,1465.6 1520.0,1465.7 1544.0,1465.7 1568.0,1465.8 1592.0,1465.8 1616.0,1465.9 1640.0,1466.0 1645.0,1466.0" stroke="#000" stroke-width="3.0" fill="none" stroke-linejoin="round"/>
<use href="#m7" x="308.3" y="1462.0"/><use href="#m7" x="320.1" y="1462.0"/><use href="#m7" x="331.9" y="1462.0"/><use href="#m7" x="343.7" y="1462.0"/><use href="#m7" x="355.5" y="1462.0"/><use href="#m7" x="367.3" y="1462.0"/><use href="#m7" x="379.1" y="1462.0"/><use href="#m7" x="390.9" y="1462.0"/><use href="#m7" x="402.7" y="1462.0"/><use href="#m7" x="414.5" y="1462.0"/><use href="#m7" x="426.3" y="1462.0"/><use href="#m7" x="438.1" y="1462.0"/><use href="#m7" x="449.9" y="1462.0"/><use href="#m7" x="461.7" y="1462.0"/><use href="#m7" x="473.5" y="1462.0"/><use href="#m7" x="485.3" y="1462.0"/><use href="#m7" x="497.1" y="1462.0"/><use href="#m7" x="508.9" y="1462.0"/><use href="#m7" x="520.7" y="1462.0"/><use href="#m7" x="532.5" y="1462.0"/><use href="#m7" x="544.3" y="1462.0"/><use href="#m7" x="556.1" y="1462.0"/><use href="#m7" x="567.9" y="1462.0"/><use href="#m7" x="579.7" y="1462.0"/><use href="#m7" x="591.5" y="1462.0"/><use href="#m7" x="603.3" y="1462.0"/><use href="#m7" x="615.1" y="1462.0"/><use href="#m7" x="626.9" y="1462.0"/><use href="#m7" x="638.7" y="1462.0"/><use href="#m7" x="650.5" y="1462.0"/><use href="#m7" x="662.3" y="1462.0"/><use href="#m7" x="674.1" y="1462.0"/><use href="#m7" x="685.9" y="1462.0"/><use href="#m7" x="697.7" y="1462.0"/><use href="#m7" x="709.5" y="1462.0"/><use href="#m7" x="721.3" y="1462.0"/><use href="#m7" x="733.1" y="1462.0"/><use href="#m7" x="744.9" y="1462.0"/><use href="#m7" x="756.7" y="1462.0"/><use href="#m7" x="768.5" y="1462.0"/><use href="#m7" x="780.3" y="1462.0"/><use href="#m7" x="792.1" y="1462.0"/><use href="#m7" x="803.9" y="1462.0"/><use href="#m7" x="815.7" y="1462.2"/><use href="#m7" x="827.5" y="1462.6"/><use href="#m7" x="839.3" y="1463.3"/><use href="#m7" x="851.1" y="1464.1"/><use href="#m7" x="862.9" y="1466.3"/><use href="#m7" x="874.7" y="1470.1"/><use href="#m7" x="890.0" y="1476.5"/><use href="#m7" x="898.0" y="1481.1"/><use href="#m7" x="906.0" y="1486.0"/><use href="#m7" x="914.0" y="1491.2"/><use href="#m7" x="922.0" y="1496.9"/><use href="#m7" x="930.0" y="1503.0"/><use href="#m7" x="938.0" y="1509.6"/><use href="#m7" x="946.0" y="1516.6"/><use href="#m7" x="954.0" y="1523.4"/><use href="#m7" x="962.0" y="1530.2"/><use href="#m7" x="970.0" y="1537.0"/><use href="#m7" x="978.0" y="1543.4"/><use href="#m7" x="986.0" y="1549.9"/><use href="#m7" x="994.0" y="1558.5"/><use href="#m7" x="1002.0" y="1571.1"/><use href="#m7" x="1010.0" y="1587.2"/><use href="#m7" x="1018.0" y="1607.0"/><use href="#m7" x="1026.0" y="1628.3"/><use href="#m7" x="1034.0" y="1650.1"/><use href="#m7" x="1050.0" y="1673.0"/><use href="#m7" x="1055.5" y="1681.1"/><use href="#m7" x="1061.0" y="1690.0"/><use href="#m7" x="1066.5" y="1698.9"/><use href="#m7" x="1072.0" y="1706.6"/><use href="#m7" x="1077.5" y="1712.2"/><use href="#m7" x="1083.0" y="1714.0"/><use href="#m7" x="1088.5" y="1703.2"/><use href="#m7" x="1117.9" y="1468.1"/><use href="#m7" x="1127.4" y="1464.2"/><use href="#m7" x="1136.9" y="1462.9"/><use href="#m7" x="1146.4" y="1462.4"/><use href="#m7" x="1155.9" y="1462.1"/><use href="#m7" x="1165.4" y="1462.0"/><use href="#m7" x="1174.9" y="1462.0"/><use href="#m7" x="1184.4" y="1462.0"/><use href="#m7" x="1193.9" y="1462.0"/><use href="#m7" x="1203.4" y="1462.0"/><use href="#m7" x="1212.9" y="1462.0"/><use href="#m7" x="1222.4" y="1462.0"/><use href="#m7" x="1231.9" y="1462.0"/><use href="#m7" x="1241.4" y="1462.0"/><use href="#m7" x="1250.9" y="1462.0"/><use href="#m7" x="1260.4" y="1462.0"/><use href="#m7" x="1269.9" y="1462.0"/><use href="#m7" x="1279.4" y="1462.0"/><use href="#m7" x="1288.9" y="1462.0"/><use href="#m7" x="1298.4" y="1462.0"/><use href="#m7" x="1307.9" y="1462.0"/><use href="#m7" x="1317.4" y="1462.0"/><use href="#m7" x="1326.9" y="1462.0"/><use href="#m7" x="1336.4" y="1462.0"/><use href="#m7" x="1345.9" y="1462.0"/><use href="#m7" x="1355.4" y="1462.0"/><use href="#m7" x="1364.9" y="1462.0"/><use href="#m7" x="1098.9" y="1643.1"/>
<path d="M290.0,1440.0 295.0,1448.8 297.5,1452.7 298.8,1454.1 300.0,1455.0 307.0,1457.9 314.0,1460.0 322.0,1461.5 330.0,1462.0 338.0,1462.0 362.0,1462.0 386.0,1462.0 410.0,1462.0 434.0,1462.0 458.0,1462.0 482.0,1462.0 506.0,1462.0 530.0,1462.0 554.0,1462.0 578.0,1462.0 600.0,1462.0 602.0,1462.0 626.0,1462.0 650.0,1462.1 674.0,1462.2 698.0,1462.3 722.0,1462.4 746.0,1462.6 770.0,1462.9 794.0,1463.2 818.0,1463.5 842.0,1463.9 866.0,1464.3 890.0,1464.8 900.0,1465.0 914.0,1465.6 938.0,1467.9 960.0,1471.0 962.0,1471.4 968.0,1473.0 974.0,1475.1 986.0,1479.6 991.5,1481.1 997.0,1482.0 1010.0,1482.7 1034.0,1483.5 1044.0,1484.0 1058.0,1485.9 1070.0,1487.0 1082.0,1486.7 1089.0,1486.0 1089.8,1485.3 1090.5,1483.6 1092.0,1478.5 1093.5,1473.1 1094.2,1471.1 1095.0,1470.0 1100.0,1467.1 1102.5,1466.3 1105.0,1466.0 1106.0,1466.0 1123.0,1466.0 1130.0,1465.1 1140.0,1463.0 1154.0,1461.0 1155.0,1461.0 1156.8,1462.0 1158.5,1464.5 1162.0,1472.0 1163.5,1476.2 1165.0,1481.9 1168.0,1495.0 1174.6,1530.0 1176.3,1536.2 1178.0,1541.2 1180.5,1548.6 1181.8,1553.2 1183.0,1559.0 1183.6,1562.8 1184.2,1567.7 1184.9,1573.4 1185.5,1579.5 1186.8,1592.3 1187.4,1598.3 1188.0,1603.8 1189.0,1611.8 1190.1,1619.2 1192.2,1633.1 1194.2,1647.7 1195.3,1655.8 1196.3,1665.0 1197.0,1672.2 1197.7,1680.4 1198.4,1689.3 1199.2,1698.8 1200.6,1718.3 1202.0,1737.2 1202.9,1748.0 1204.1,1761.3 1205.4,1773.3 1207.8,1795.8 1209.1,1807.3 1210.3,1819.6 1211.6,1833.4 1212.2,1840.9 1212.8,1849.0 1213.2,1855.0 1213.6,1861.4 1214.5,1875.7 1215.3,1891.5 1216.2,1908.2 1217.8,1943.0 1218.7,1960.1 1219.5,1976.5 1221.1,2008.1 1222.8,2040.2 1223.6,2055.9 1224.4,2071.1 1225.2,2085.5 1226.0,2099.0 1228.2,2134.0 1229.3,2150.8 1230.5,2166.9 1231.6,2182.1 1232.7,2196.0 1233.8,2208.5 1234.9,2219.3 1236.9,2237.4 1237.9,2246.3 1238.8,2254.5 1239.8,2261.6 1240.8,2267.2 1241.3,2269.3 1241.8,2270.9 1242.3,2271.9 1242.8,2272.2 1244.6,2271.3 1246.4,2268.7 1248.2,2264.5 1250.0,2258.9 1251.8,2252.0 1252.3,2249.3 1252.7,2245.1 1253.2,2239.5 1253.7,2232.6 1254.1,2224.7 1254.6,2215.8 1255.0,2206.0 1255.5,2195.5 1256.4,2173.0 1257.3,2149.3 1258.3,2125.4 1259.2,2102.5 1259.7,2089.7 1260.2,2076.1 1260.8,2061.8 1261.3,2047.0 1262.3,2015.9 1263.3,1983.6 1265.4,1918.4 1266.5,1887.0 1267.0,1871.9 1267.5,1857.3 1268.3,1834.6 1269.1,1811.3 1270.8,1764.5 1271.6,1741.7 1272.4,1719.6 1273.2,1698.8 1274.0,1679.4 1274.5,1669.4 1274.9,1660.1 1275.3,1651.4 1275.8,1643.5 1276.8,1626.6 1277.8,1610.5 1278.9,1595.3 1279.9,1581.3 1280.9,1568.7 1282.0,1557.7 1283.0,1548.6 1283.5,1544.8 1284.0,1541.5 1285.0,1535.8 1286.1,1530.7 1287.1,1526.2 1288.2,1522.2 1290.2,1515.5 1292.3,1510.0 1295.2,1503.4 1298.0,1497.7 1301.5,1492.0 1305.0,1488.0 1313.5,1481.2 1317.8,1478.6 1322.0,1476.4 1326.0,1475.0 1330.0,1474.0 1346.0,1471.7 1370.0,1469.3 1394.0,1468.1 1400.0,1468.0 1418.0,1467.7 1442.0,1467.4 1466.0,1467.1 1490.0,1466.9 1514.0,1466.8 1538.0,1466.6 1562.0,1466.5 1586.0,1466.4 1610.0,1466.2 1634.0,1466.1 1645.0,1466.0" stroke="#f00" stroke-width="3.0" fill="none" stroke-linejoin="round"/>
<use href="#m8" x="301.4" y="1455.6"/><use href="#m8" x="325.0" y="1461.8"/><use href="#m8" x="348.6" y="1462.0"/><use href="#m8" x="372.2" y="1462.0"/><use href="#m8" x="395.8" y="1462.0"/><use href="#m8" x="419.4" y="1462.0"/><use href="#m8" x="443.0" y="1462.0"/><use href="#m8" x="466.6" y="1462.0"/><use href="#m8" x="490.2" y="1462.0"/><use href="#m8" x="513.8" y="1462.0"/><use href="#m8" x="537.4" y="1462.0"/><use href="#m8" x="561.0" y="1462.0"/><use href="#m8" x="584.6" y="1462.0"/><use href="#m8" x="608.2" y="1462.0"/><use href="#m8" x="631.8" y="1462.0"/><use href="#m8" x="655.4" y="1462.1"/><use href="#m8" x="679.0" y="1462.2"/><use href="#m8" x="702.6" y="1462.3"/><use href="#m8" x="726.2" y="1462.5"/><use href="#m8" x="749.8" y="1462.7"/><use href="#m8" x="773.4" y="1462.9"/><use href="#m8" x="797.0" y="1463.2"/><use href="#m8" x="820.6" y="1463.5"/><use href="#m8" x="844.2" y="1463.9"/><use href="#m8" x="867.8" y="1464.3"/><use href="#m8" x="891.4" y="1464.8"/><use href="#m8" x="915.0" y="1465.7"/><use href="#m8" x="938.6" y="1468.0"/><use href="#m8" x="962.2" y="1471.4"/><use href="#m8" x="985.8" y="1479.5"/><use href="#m8" x="1012.0" y="1482.8"/><use href="#m8" x="1014.5" y="1482.9"/><use href="#m8" x="1017.0" y="1483.0"/><use href="#m8" x="1019.5" y="1483.0"/><use href="#m8" x="1022.0" y="1483.1"/><use href="#m8" x="1024.5" y="1483.2"/><use href="#m8" x="1027.0" y="1483.3"/><use href="#m8" x="1029.5" y="1483.3"/><use href="#m8" x="1105.0" y="1466.0"/><use href="#m8" x="1107.5" y="1466.0"/><use href="#m8" x="1110.0" y="1466.0"/><use href="#m8" x="1112.5" y="1466.0"/><use href="#m8" x="1115.0" y="1466.0"/><use href="#m8" x="1117.5" y="1466.0"/><use href="#m8" x="1120.0" y="1466.0"/><use href="#m8" x="1122.5" y="1466.0"/><use href="#m8" x="1316.2" y="1479.5"/><use href="#m8" x="1339.8" y="1472.5"/><use href="#m8" x="1363.4" y="1469.8"/><use href="#m8" x="1387.0" y="1468.4"/><use href="#m8" x="1410.6" y="1467.8"/><use href="#m8" x="1434.2" y="1467.5"/><use href="#m8" x="1457.8" y="1467.2"/><use href="#m8" x="1481.4" y="1467.0"/><use href="#m8" x="1505.0" y="1466.8"/><use href="#m8" x="1528.6" y="1466.7"/><use href="#m8" x="1552.2" y="1466.6"/><use href="#m8" x="1575.8" y="1466.4"/><use href="#m8" x="1599.4" y="1466.3"/><use href="#m8" x="1623.0" y="1466.2"/><use href="#m8" x="1174.6" y="1530.0"/><use href="#m8" x="1183.0" y="1559.0"/><use href="#m8" x="1188.0" y="1603.8"/><use href="#m8" x="1196.3" y="1665.0"/><use href="#m8" x="1202.9" y="1748.0"/><use href="#m8" x="1212.8" y="1849.0"/><use href="#m8" x="1219.5" y="1976.5"/><use href="#m8" x="1226.0" y="2099.0"/><use href="#m8" x="1234.9" y="2219.3"/><use href="#m8" x="1242.8" y="2272.2"/><use href="#m8" x="1251.8" y="2252.0"/><use href="#m8" x="1259.2" y="2102.5"/><use href="#m8" x="1267.5" y="1857.3"/><use href="#m8" x="1275.8" y="1643.5"/><use href="#m8" x="1284.0" y="1541.5"/><use href="#m8" x="1292.3" y="1510.0"/>
<path d="M320.0,1499.0 321.5,1490.9 322.2,1487.4 322.6,1486.4 323.0,1486.0 344.0,1488.0 345.0,1488.0 353.5,1487.3 362.0,1486.0 368.0,1485.1 392.0,1480.9 416.0,1476.6 420.0,1476.0 440.0,1473.0 464.0,1469.6 488.0,1466.9 500.0,1466.0 512.0,1465.3 536.0,1463.9 560.0,1462.8 584.0,1462.1 600.0,1462.0 608.0,1462.0 632.0,1462.0 656.0,1462.0 680.0,1462.0 704.0,1462.0 728.0,1462.0 752.0,1462.0 776.0,1462.0 800.0,1462.0 824.0,1462.0 848.0,1462.0 862.0,1462.0 872.0,1462.0 896.0,1462.0 920.0,1462.0 944.0,1462.0 968.0,1462.0 979.0,1462.0 992.0,1462.1 1016.0,1462.6 1026.8,1463.0 1040.0,1464.3 1051.6,1466.0 1064.0,1467.6 1075.5,1470.0 1078.6,1471.4 1081.8,1473.7 1088.0,1479.4 1088.6,1480.0 1093.9,1486.1 1099.3,1493.5 1110.0,1510.0 1112.0,1513.1 1118.5,1523.4 1125.0,1535.0 1130.5,1544.7 1133.2,1550.2 1134.6,1553.6 1136.0,1557.5 1137.2,1561.3 1138.3,1565.7 1138.9,1568.9 1139.5,1573.3 1140.2,1578.9 1140.8,1585.5 1141.4,1592.9 1142.0,1601.1 1143.2,1619.1 1145.7,1658.4 1147.0,1677.5 1147.6,1686.5 1148.2,1694.9 1160.0,1850.0 1161.5,1869.5 1163.0,1889.5 1165.9,1929.8 1167.4,1949.2 1168.8,1967.8 1170.3,1985.1 1171.8,2000.7 1173.3,2015.5 1174.8,2029.5 1176.4,2042.8 1177.9,2055.5 1179.4,2067.5 1181.0,2078.9 1182.5,2089.7 1184.0,2100.0 1189.8,2141.5 1191.2,2150.4 1191.9,2154.3 1192.6,2157.6 1193.3,2160.3 1194.1,2162.3 1194.8,2163.6 1195.5,2164.0 1196.2,2163.6 1196.9,2162.6 1197.6,2160.9 1198.2,2158.7 1199.6,2153.0 1201.0,2146.0 1201.4,2143.5 1201.8,2140.2 1202.1,2136.1 1202.5,2131.3 1202.9,2125.9 1203.2,2120.0 1204.0,2106.9 1205.5,2078.0 1206.2,2063.6 1207.0,2050.0 1208.0,2033.3 1209.1,2015.1 1210.2,1996.1 1210.8,1985.8 1211.3,1974.8 1211.9,1962.9 1212.4,1950.0 1212.7,1940.9 1213.1,1930.3 1213.4,1918.4 1213.8,1905.4 1214.1,1891.7 1214.4,1877.4 1215.1,1848.0 1215.8,1819.1 1216.1,1805.4 1216.4,1792.6 1216.8,1780.9 1217.1,1770.5 1217.5,1761.6 1217.8,1754.5 1218.6,1741.2 1219.3,1729.1 1220.1,1717.9 1220.8,1707.6 1221.6,1698.2 1222.4,1689.4 1223.1,1681.3 1223.9,1673.7 1225.4,1659.6 1227.0,1646.5 1228.5,1633.5 1230.0,1620.0 1232.0,1600.9 1234.7,1575.0 1236.0,1562.5 1237.3,1550.9 1238.7,1540.4 1240.0,1531.5 1241.4,1524.3 1242.0,1521.5 1242.7,1519.3 1244.1,1515.6 1245.5,1512.5 1248.3,1507.6 1254.0,1499.4 1256.0,1496.0 1263.0,1483.6 1266.5,1478.4 1268.2,1476.5 1270.0,1475.0 1280.0,1469.1 1290.0,1465.0 1295.0,1463.7 1300.0,1463.0 1304.0,1462.7 1328.0,1461.0 1352.0,1460.0 1376.0,1459.3 1400.0,1459.0 1424.0,1458.8 1448.0,1458.7 1472.0,1458.6 1496.0,1458.5 1520.0,1458.4 1544.0,1458.3 1568.0,1458.2 1592.0,1458.2 1616.0,1458.1 1640.0,1458.0 1645.0,1458.0" stroke="#00f" stroke-width="3.0" fill="none" stroke-linejoin="round"/>
<use href="#m9" x="330.0" y="1446.0"/><use href="#m9" x="623.3" y="1446.0"/><use href="#m9" x="862.7" y="1455.0"/><use href="#m9" x="933.3" y="1457.0"/><use href="#m9" x="979.0" y="1462.0"/><use href="#m9" x="1002.9" y="1462.0"/><use href="#m9" x="1026.8" y="1463.0"/><use href="#m9" x="1051.6" y="1466.0"/><use href="#m9" x="1075.5" y="1470.0"/><use href="#m9" x="1148.2" y="1694.9"/><use href="#m9" x="1171.8" y="2000.7"/><use href="#m9" x="1195.5" y="2164.0"/><use href="#m9" x="1217.8" y="1754.5"/><use href="#m9" x="1242.7" y="1519.3"/><use href="#m9" x="1481.0" y="1458.0"/><use href="#m9" x="1504.3" y="1458.0"/><use href="#m9" x="1623.0" y="1457.0"/>
<path d="M295.0,1462.0 319.0,1462.0 343.0,1462.0 367.0,1462.0 391.0,1462.0 415.0,1462.0 439.0,1462.0 463.0,1462.0 487.0,1462.0 511.0,1462.0 535.0,1462.0 559.0,1462.0 583.0,1462.0 600.0,1462.0 607.0,1462.0 631.0,1462.0 655.0,1462.0 679.0,1462.1 703.0,1462.1 727.0,1462.2 751.0,1462.3 775.0,1462.4 799.0,1462.6 823.0,1462.8 847.0,1463.0 850.0,1463.0 871.0,1463.9 895.0,1466.3 919.0,1469.8 920.0,1470.0 931.5,1472.9 943.0,1477.2 960.0,1485.0 967.0,1488.4 978.5,1494.8 984.2,1498.6 990.0,1503.0 991.0,1503.8 994.5,1507.2 998.0,1511.1 1005.0,1520.0 1007.5,1523.9 1010.0,1528.5 1012.5,1532.8 1015.0,1536.0 1020.0,1540.2 1025.0,1543.4 1035.0,1549.0 1039.0,1551.4 1047.0,1555.8 1055.0,1561.0 1059.0,1564.7 1063.0,1569.2 1066.5,1573.0 1070.0,1576.0 1078.5,1581.7 1082.8,1583.9 1087.0,1585.0 1088.0,1585.0 1091.0,1584.3 1094.0,1582.6 1100.0,1578.0 1105.5,1573.3 1111.0,1567.7 1125.0,1552.0 1135.0,1541.3 1145.0,1531.0 1159.0,1519.0 1162.0,1516.0 1166.5,1510.3 1171.0,1503.6 1175.5,1497.1 1177.8,1494.3 1180.0,1492.0 1183.0,1489.3 1191.5,1482.4 1195.8,1480.1 1200.0,1479.0 1207.0,1478.5 1231.0,1477.4 1255.0,1476.8 1279.0,1476.4 1300.0,1476.0 1303.0,1475.9 1327.0,1475.5 1351.0,1475.0 1375.0,1474.6 1399.0,1474.2 1423.0,1473.9 1447.0,1473.6 1471.0,1473.2 1495.0,1472.9 1519.0,1472.6 1543.0,1472.3 1567.0,1472.0 1591.0,1471.7 1615.0,1471.4 1639.0,1471.1 1645.0,1471.0" stroke="#008080" stroke-width="3.0" fill="none" stroke-linejoin="round"/>
<use href="#m10" x="309.3" y="1462.0"/><use href="#m10" x="332.9" y="1462.0"/><use href="#m10" x="356.5" y="1462.0"/><use href="#m10" x="380.1" y="1462.0"/><use href="#m10" x="403.7" y="1462.0"/><use href="#m10" x="427.3" y="1462.0"/><use href="#m10" x="450.9" y="1462.0"/><use href="#m10" x="474.5" y="1462.0"/><use href="#m10" x="498.1" y="1462.0"/><use href="#m10" x="521.7" y="1462.0"/><use href="#m10" x="545.3" y="1462.0"/><use href="#m10" x="568.9" y="1462.0"/><use href="#m10" x="592.5" y="1462.0"/><use href="#m10" x="616.1" y="1462.0"/><use href="#m10" x="639.7" y="1462.0"/><use href="#m10" x="663.3" y="1462.0"/><use href="#m10" x="686.9" y="1462.1"/><use href="#m10" x="710.5" y="1462.2"/><use href="#m10" x="734.1" y="1462.2"/><use href="#m10" x="757.7" y="1462.4"/><use href="#m10" x="781.3" y="1462.5"/><use href="#m10" x="804.9" y="1462.6"/><use href="#m10" x="828.5" y="1462.8"/><use href="#m10" x="852.1" y="1463.0"/><use href="#m10" x="875.7" y="1464.2"/><use href="#m10" x="899.3" y="1466.9"/><use href="#m10" x="922.9" y="1470.5"/><use href="#m10" x="946.5" y="1478.8"/><use href="#m10" x="970.1" y="1490.0"/><use href="#m10" x="993.7" y="1506.4"/><use href="#m10" x="1012.0" y="1532.0"/><use href="#m10" x="1015.0" y="1536.0"/><use href="#m10" x="1018.0" y="1538.7"/><use href="#m10" x="1021.0" y="1540.9"/><use href="#m10" x="1024.0" y="1542.8"/><use href="#m10" x="1027.0" y="1544.5"/><use href="#m10" x="1030.0" y="1546.1"/><use href="#m10" x="1033.0" y="1547.8"/><use href="#m10" x="1036.0" y="1549.6"/><use href="#m10" x="1039.0" y="1551.4"/><use href="#m10" x="1042.0" y="1553.0"/><use href="#m10" x="1045.0" y="1554.7"/><use href="#m10" x="1048.0" y="1556.4"/><use href="#m10" x="1051.0" y="1558.2"/><use href="#m10" x="1054.0" y="1560.3"/><use href="#m10" x="1057.0" y="1562.7"/><use href="#m10" x="1060.0" y="1565.8"/><use href="#m10" x="1063.0" y="1569.2"/><use href="#m10" x="1066.0" y="1572.5"/><use href="#m10" x="1069.0" y="1575.3"/><use href="#m10" x="1072.0" y="1577.4"/><use href="#m10" x="1075.0" y="1579.5"/><use href="#m10" x="1078.0" y="1581.4"/><use href="#m10" x="1081.0" y="1583.1"/><use href="#m10" x="1084.0" y="1584.3"/><use href="#m10" x="1087.0" y="1585.0"/><use href="#m10" x="1090.0" y="1584.7"/><use href="#m10" x="1093.0" y="1583.2"/><use href="#m10" x="1096.0" y="1581.1"/><use href="#m10" x="1099.0" y="1578.7"/><use href="#m10" x="1102.0" y="1576.5"/><use href="#m10" x="1105.0" y="1573.8"/><use href="#m10" x="1108.0" y="1570.9"/><use href="#m10" x="1111.0" y="1567.7"/><use href="#m10" x="1114.0" y="1564.3"/><use href="#m10" x="1117.0" y="1560.9"/><use href="#m10" x="1120.0" y="1557.5"/><use href="#m10" x="1123.0" y="1554.1"/><use href="#m10" x="1126.0" y="1550.9"/><use href="#m10" x="1129.0" y="1547.8"/><use href="#m10" x="1132.0" y="1544.5"/><use href="#m10" x="1135.0" y="1541.3"/><use href="#m10" x="1138.0" y="1538.1"/><use href="#m10" x="1141.0" y="1535.0"/><use href="#m10" x="1144.0" y="1532.0"/><use href="#m10" x="1147.0" y="1529.2"/><use href="#m10" x="1150.0" y="1526.6"/><use href="#m10" x="1153.0" y="1524.1"/><use href="#m10" x="1156.0" y="1521.6"/><use href="#m10" x="1159.0" y="1519.0"/><use href="#m10" x="1162.0" y="1516.0"/><use href="#m10" x="1165.0" y="1512.4"/><use href="#m10" x="1183.9" y="1488.5"/><use href="#m10" x="1207.7" y="1478.5"/><use href="#m10" x="1231.5" y="1477.4"/><use href="#m10" x="1255.3" y="1476.8"/><use href="#m10" x="1279.1" y="1476.4"/><use href="#m10" x="1302.9" y="1475.9"/><use href="#m10" x="1326.7" y="1475.5"/><use href="#m10" x="1350.5" y="1475.0"/><use href="#m10" x="1374.3" y="1474.6"/><use href="#m10" x="1398.1" y="1474.3"/><use href="#m10" x="1421.9" y="1473.9"/><use href="#m10" x="1445.7" y="1473.6"/><use href="#m10" x="1469.5" y="1473.3"/><use href="#m10" x="1493.3" y="1473.0"/><use href="#m10" x="1517.1" y="1472.7"/><use href="#m10" x="1540.9" y="1472.4"/><use href="#m10" x="1564.7" y="1472.1"/><use href="#m10" x="1588.5" y="1471.8"/><use href="#m10" x="1612.3" y="1471.5"/><use href="#m10" x="1636.1" y="1471.1"/>
<path d="M295.0,1462.0 319.0,1462.0 343.0,1462.0 367.0,1462.0 391.0,1462.0 415.0,1462.0 439.0,1462.0 463.0,1462.0 487.0,1462.0 511.0,1462.0 535.0,1462.0 559.0,1462.0 583.0,1462.0 600.0,1462.0 607.0,1462.0 631.0,1462.0 655.0,1462.1 679.0,1462.2 703.0,1462.3 727.0,1462.4 751.0,1462.6 775.0,1462.9 799.0,1463.2 823.0,1463.5 847.0,1463.9 850.0,1464.0 860.5,1464.5 871.0,1465.5 895.0,1469.1 900.0,1470.0 909.5,1472.1 919.0,1474.8 931.0,1479.5 943.0,1485.7 950.0,1490.0 954.2,1493.4 958.5,1498.0 962.8,1503.7 967.0,1510.3 971.0,1517.3 975.0,1525.0 978.5,1531.8 980.3,1535.5 982.1,1539.8 983.9,1545.0 985.7,1551.4 987.4,1559.3 989.2,1569.0 989.4,1570.6 989.7,1572.8 990.1,1578.4 990.5,1585.5 991.0,1593.5 992.5,1622.0 992.9,1629.1 993.2,1636.9 994.0,1653.5 994.4,1661.5 994.8,1668.8 995.1,1675.1 995.5,1680.0 996.4,1689.0 997.2,1696.6 997.7,1699.8 998.1,1702.5 998.6,1704.6 999.0,1706.0 1001.0,1710.3 1002.0,1711.5 1003.0,1712.0 1003.6,1711.2 1004.2,1708.9 1004.9,1705.4 1005.5,1701.1 1008.0,1680.0 1008.6,1674.2 1009.2,1667.2 1010.5,1651.4 1011.1,1643.5 1011.8,1636.1 1012.4,1629.8 1013.0,1625.0 1015.0,1613.0 1016.2,1606.5 1017.5,1601.1 1018.8,1597.2 1020.0,1595.0 1023.8,1592.3 1027.5,1590.7 1035.0,1588.0 1039.0,1586.1 1049.5,1581.0 1060.0,1575.0 1063.0,1572.9 1069.0,1568.1 1075.0,1562.6 1087.0,1551.0 1110.0,1527.0 1111.0,1526.0 1120.5,1516.3 1125.2,1511.8 1130.0,1508.0 1135.0,1504.7 1143.5,1499.8 1152.0,1496.0 1159.0,1493.8 1170.0,1491.0 1183.0,1487.6 1200.0,1484.0 1207.0,1482.9 1231.0,1479.7 1250.0,1478.0 1255.0,1477.7 1279.0,1476.6 1300.0,1476.0 1303.0,1475.9 1327.0,1475.5 1351.0,1475.1 1375.0,1474.8 1399.0,1474.5 1400.0,1474.5 1423.0,1474.3 1447.0,1474.2 1471.0,1474.1 1495.0,1474.0 1519.0,1474.0 1543.0,1473.9 1567.0,1473.7 1591.0,1473.5 1615.0,1473.2 1630.0,1473.0 1633.0,1472.8 1636.0,1472.0 1636.4,1471.0 1636.8,1468.3 1637.1,1464.5 1637.5,1459.9 1638.2,1449.4 1638.6,1444.4 1639.0,1440.0" stroke="#f0f" stroke-width="3.0" fill="none" stroke-linejoin="round"/>
<use href="#m11" x="309.3" y="1462.0"/><use href="#m11" x="332.9" y="1462.0"/><use href="#m11" x="356.5" y="1462.0"/><use href="#m11" x="380.1" y="1462.0"/><use href="#m11" x="403.7" y="1462.0"/><use href="#m11" x="427.3" y="1462.0"/><use href="#m11" x="450.9" y="1462.0"/><use href="#m11" x="474.5" y="1462.0"/><use href="#m11" x="498.1" y="1462.0"/><use href="#m11" x="521.7" y="1462.0"/><use href="#m11" x="545.3" y="1462.0"/><use href="#m11" x="568.9" y="1462.0"/><use href="#m11" x="592.5" y="1462.0"/><use href="#m11" x="616.1" y="1462.0"/><use href="#m11" x="639.7" y="1462.0"/><use href="#m11" x="663.3" y="1462.1"/><use href="#m11" x="686.9" y="1462.2"/><use href="#m11" x="710.5" y="1462.3"/><use href="#m11" x="734.1" y="1462.5"/><use href="#m11" x="757.7" y="1462.7"/><use href="#m11" x="781.3" y="1463.0"/><use href="#m11" x="804.9" y="1463.3"/><use href="#m11" x="828.5" y="1463.6"/><use href="#m11" x="852.1" y="1464.1"/><use href="#m11" x="875.7" y="1466.1"/><use href="#m11" x="899.3" y="1469.9"/><use href="#m11" x="922.9" y="1476.2"/><use href="#m11" x="946.5" y="1487.8"/><use href="#m11" x="970.1" y="1515.7"/><use href="#m11" x="1025.0" y="1591.7"/><use href="#m11" x="1028.0" y="1590.5"/><use href="#m11" x="1031.0" y="1589.6"/><use href="#m11" x="1034.0" y="1588.5"/><use href="#m11" x="1037.0" y="1587.0"/><use href="#m11" x="1082.0" y="1555.9"/><use href="#m11" x="1085.0" y="1552.9"/><use href="#m11" x="1088.0" y="1550.0"/><use href="#m11" x="1091.0" y="1547.0"/><use href="#m11" x="1094.0" y="1543.9"/><use href="#m11" x="1097.0" y="1540.7"/><use href="#m11" x="1100.0" y="1537.5"/><use href="#m11" x="1103.0" y="1534.3"/><use href="#m11" x="1106.0" y="1531.1"/><use href="#m11" x="1109.0" y="1528.0"/><use href="#m11" x="1112.0" y="1525.0"/><use href="#m11" x="1115.0" y="1521.9"/><use href="#m11" x="1118.0" y="1518.8"/><use href="#m11" x="1121.0" y="1515.8"/><use href="#m11" x="1124.0" y="1512.9"/><use href="#m11" x="1127.0" y="1510.3"/><use href="#m11" x="1130.0" y="1508.0"/><use href="#m11" x="1133.0" y="1506.0"/><use href="#m11" x="1136.0" y="1504.0"/><use href="#m11" x="1139.0" y="1502.2"/><use href="#m11" x="1142.0" y="1500.5"/><use href="#m11" x="1145.0" y="1499.0"/><use href="#m11" x="1148.0" y="1497.6"/><use href="#m11" x="1151.0" y="1496.4"/><use href="#m11" x="1154.0" y="1495.3"/><use href="#m11" x="1157.0" y="1494.4"/><use href="#m11" x="1160.0" y="1493.5"/><use href="#m11" x="1163.0" y="1492.7"/><use href="#m11" x="1166.0" y="1492.0"/><use href="#m11" x="1169.0" y="1491.3"/><use href="#m11" x="1172.0" y="1490.5"/><use href="#m11" x="1175.0" y="1489.7"/><use href="#m11" x="1178.0" y="1488.9"/><use href="#m11" x="1181.0" y="1488.2"/><use href="#m11" x="1184.0" y="1487.4"/><use href="#m11" x="1186.0" y="1486.9"/><use href="#m11" x="1188.5" y="1486.3"/><use href="#m11" x="1191.0" y="1485.7"/><use href="#m11" x="1193.5" y="1485.2"/><use href="#m11" x="1196.0" y="1484.7"/><use href="#m11" x="1198.5" y="1484.3"/><use href="#m11" x="1201.0" y="1483.8"/><use href="#m11" x="1203.5" y="1483.4"/><use href="#m11" x="1206.0" y="1483.0"/><use href="#m11" x="1208.5" y="1482.7"/><use href="#m11" x="1211.0" y="1482.3"/><use href="#m11" x="1213.5" y="1481.9"/><use href="#m11" x="1216.0" y="1481.6"/><use href="#m11" x="1218.5" y="1481.2"/><use href="#m11" x="1221.0" y="1480.9"/><use href="#m11" x="1223.5" y="1480.5"/><use href="#m11" x="1226.0" y="1480.2"/><use href="#m11" x="1228.5" y="1479.9"/><use href="#m11" x="1231.0" y="1479.7"/><use href="#m11" x="1233.5" y="1479.4"/><use href="#m11" x="1236.0" y="1479.1"/><use href="#m11" x="1238.5" y="1478.9"/><use href="#m11" x="1241.0" y="1478.7"/><use href="#m11" x="1243.5" y="1478.5"/><use href="#m11" x="1246.0" y="1478.3"/><use href="#m11" x="1248.5" y="1478.1"/><use href="#m11" x="1251.0" y="1477.9"/><use href="#m11" x="1253.5" y="1477.8"/><use href="#m11" x="1256.0" y="1477.7"/><use href="#m11" x="1258.5" y="1477.5"/><use href="#m11" x="1261.0" y="1477.4"/><use href="#m11" x="1263.5" y="1477.3"/><use href="#m11" x="1266.0" y="1477.2"/><use href="#m11" x="1268.5" y="1477.0"/><use href="#m11" x="1271.0" y="1476.9"/><use href="#m11" x="1273.5" y="1476.8"/><use href="#m11" x="1276.0" y="1476.7"/><use href="#m11" x="1278.5" y="1476.6"/><use href="#m11" x="1281.0" y="1476.5"/><use href="#m11" x="1283.5" y="1476.5"/><use href="#m11" x="1286.0" y="1476.4"/><use href="#m11" x="1288.5" y="1476.3"/><use href="#m11" x="1291.0" y="1476.2"/><use href="#m11" x="1293.5" y="1476.2"/><use href="#m11" x="1296.0" y="1476.1"/><use href="#m11" x="1298.5" y="1476.0"/><use href="#m11" x="1301.0" y="1476.0"/><use href="#m11" x="1303.5" y="1475.9"/><use href="#m11" x="1306.0" y="1475.9"/><use href="#m11" x="1308.5" y="1475.8"/><use href="#m11" x="1311.0" y="1475.8"/><use href="#m11" x="1313.5" y="1475.7"/><use href="#m11" x="1316.0" y="1475.7"/><use href="#m11" x="1318.5" y="1475.6"/><use href="#m11" x="1321.0" y="1475.6"/><use href="#m11" x="1323.5" y="1475.5"/><use href="#m11" x="1326.0" y="1475.5"/><use href="#m11" x="1328.5" y="1475.4"/><use href="#m11" x="1331.0" y="1475.4"/><use href="#m11" x="1333.5" y="1475.3"/><use href="#m11" x="1336.0" y="1475.3"/><use href="#m11" x="1338.5" y="1475.3"/><use href="#m11" x="1341.0" y="1475.2"/><use href="#m11" x="1343.5" y="1475.2"/><use href="#m11" x="1346.0" y="1475.1"/><use href="#m11" x="1348.5" y="1475.1"/><use href="#m11" x="1351.0" y="1475.1"/><use href="#m11" x="1353.5" y="1475.0"/><use href="#m11" x="1356.0" y="1475.0"/><use href="#m11" x="1358.5" y="1475.0"/><use href="#m11" x="1361.0" y="1474.9"/><use href="#m11" x="1363.5" y="1474.9"/><use href="#m11" x="1366.0" y="1474.9"/><use href="#m11" x="1368.5" y="1474.8"/><use href="#m11" x="1371.0" y="1474.8"/><use href="#m11" x="1373.5" y="1474.8"/><use href="#m11" x="1376.0" y="1474.8"/><use href="#m11" x="1378.5" y="1474.7"/><use href="#m11" x="1381.0" y="1474.7"/><use href="#m11" x="1383.5" y="1474.7"/><use href="#m11" x="1386.0" y="1474.6"/><use href="#m11" x="1388.5" y="1474.6"/><use href="#m11" x="1391.0" y="1474.6"/><use href="#m11" x="1393.5" y="1474.6"/><use href="#m11" x="1396.0" y="1474.5"/><use href="#m11" x="1398.5" y="1474.5"/><use href="#m11" x="1401.0" y="1474.5"/><use href="#m11" x="1403.5" y="1474.5"/><use href="#m11" x="1406.0" y="1474.4"/><use href="#m11" x="1408.5" y="1474.4"/><use href="#m11" x="1411.0" y="1474.4"/><use href="#m11" x="1413.5" y="1474.4"/><use href="#m11" x="1416.0" y="1474.4"/><use href="#m11" x="1418.5" y="1474.3"/><use href="#m11" x="1421.0" y="1474.3"/><use href="#m11" x="1423.5" y="1474.3"/><use href="#m11" x="1426.0" y="1474.3"/><use href="#m11" x="1428.5" y="1474.3"/><use href="#m11" x="1431.0" y="1474.3"/><use href="#m11" x="1433.5" y="1474.3"/><use href="#m11" x="1436.0" y="1474.2"/><use href="#m11" x="1438.5" y="1474.2"/><use href="#m11" x="1441.0" y="1474.2"/><use href="#m11" x="1443.5" y="1474.2"/><use href="#m11" x="1446.0" y="1474.2"/><use href="#m11" x="1448.5" y="1474.2"/><use href="#m11" x="1451.0" y="1474.2"/><use href="#m11" x="1453.5" y="1474.2"/><use href="#m11" x="1456.0" y="1474.2"/><use href="#m11" x="1458.5" y="1474.1"/><use href="#m11" x="1461.0" y="1474.1"/><use href="#m11" x="1463.5" y="1474.1"/><use href="#m11" x="1466.0" y="1474.1"/><use href="#m11" x="1468.5" y="1474.1"/><use href="#m11" x="1471.0" y="1474.1"/><use href="#m11" x="1473.5" y="1474.1"/><use href="#m11" x="1476.0" y="1474.1"/><use href="#m11" x="1478.5" y="1474.1"/><use href="#m11" x="1481.0" y="1474.1"/><use href="#m11" x="1483.5" y="1474.1"/><use href="#m11" x="1486.0" y="1474.1"/><use href="#m11" x="1488.5" y="1474.1"/><use href="#m11" x="1491.0" y="1474.0"/><use href="#m11" x="1493.5" y="1474.0"/><use href="#m11" x="1496.0" y="1474.0"/><use href="#m11" x="1498.5" y="1474.0"/><use href="#m11" x="1501.0" y="1474.0"/><use href="#m11" x="1503.5" y="1474.0"/><use href="#m11" x="1506.0" y="1474.0"/><use href="#m11" x="1508.5" y="1474.0"/><use href="#m11" x="1511.0" y="1474.0"/><use href="#m11" x="1513.5" y="1474.0"/><use href="#m11" x="1516.0" y="1474.0"/><use href="#m11" x="1518.5" y="1474.0"/><use href="#m11" x="1521.0" y="1474.0"/><use href="#m11" x="1523.5" y="1474.0"/><use href="#m11" x="1526.0" y="1473.9"/><use href="#m11" x="1528.5" y="1473.9"/><use href="#m11" x="1531.0" y="1473.9"/><use href="#m11" x="1533.5" y="1473.9"/><use href="#m11" x="1536.0" y="1473.9"/><use href="#m11" x="1538.5" y="1473.9"/><use href="#m11" x="1541.0" y="1473.9"/><use href="#m11" x="1543.5" y="1473.9"/><use href="#m11" x="1546.0" y="1473.9"/><use href="#m11" x="1548.5" y="1473.9"/><use href="#m11" x="1551.0" y="1473.8"/><use href="#m11" x="1553.5" y="1473.8"/><use href="#m11" x="1556.0" y="1473.8"/><use href="#m11" x="1558.5" y="1473.8"/><use href="#m11" x="1561.0" y="1473.8"/><use href="#m11" x="1563.5" y="1473.8"/><use href="#m11" x="1566.0" y="1473.8"/><use href="#m11" x="1568.5" y="1473.7"/><use href="#m11" x="1571.0" y="1473.7"/><use href="#m11" x="1573.5" y="1473.7"/><use href="#m11" x="1576.0" y="1473.7"/><use href="#m11" x="1578.5" y="1473.7"/><use href="#m11" x="1581.0" y="1473.6"/><use href="#m11" x="1583.5" y="1473.6"/><use href="#m11" x="1586.0" y="1473.6"/><use href="#m11" x="1588.5" y="1473.6"/><use href="#m11" x="1591.0" y="1473.5"/><use href="#m11" x="1593.5" y="1473.5"/><use href="#m11" x="1596.0" y="1473.5"/><use href="#m11" x="1598.5" y="1473.5"/><use href="#m11" x="1601.0" y="1473.4"/><use href="#m11" x="1603.5" y="1473.4"/><use href="#m11" x="1606.0" y="1473.4"/><use href="#m11" x="1608.5" y="1473.3"/><use href="#m11" x="1611.0" y="1473.3"/><use href="#m11" x="1613.5" y="1473.3"/><use href="#m11" x="1616.0" y="1473.2"/><use href="#m11" x="1618.5" y="1473.2"/><use href="#m11" x="1621.0" y="1473.2"/><use href="#m11" x="1623.5" y="1473.1"/><use href="#m11" x="1626.0" y="1473.1"/><use href="#m11" x="1628.5" y="1473.0"/><use href="#m11" x="989.2" y="1569.0"/><use href="#m11" x="992.5" y="1622.0"/><use href="#m11" x="995.5" y="1680.0"/><use href="#m11" x="999.0" y="1706.0"/>
<path d="M299.0,1481.0 304.5,1473.6 307.2,1470.2 310.0,1468.0 316.5,1465.0 323.0,1462.9 330.0,1462.0 347.0,1462.0 371.0,1462.0 395.0,1462.0 419.0,1462.0 443.0,1462.0 467.0,1462.0 491.0,1462.0 515.0,1462.0 539.0,1462.0 563.0,1462.0 587.0,1462.0 600.0,1462.0 611.0,1462.0 635.0,1462.0 659.0,1462.0 683.0,1462.1 707.0,1462.1 731.0,1462.2 755.0,1462.3 779.0,1462.4 803.0,1462.6 827.0,1462.8 850.0,1463.0 851.0,1463.0 863.0,1463.7 875.0,1465.3 899.0,1469.8 900.0,1470.0 911.5,1472.8 923.0,1476.5 931.5,1480.0 940.0,1484.0 947.0,1488.4 953.5,1493.7 960.0,1500.0 965.5,1506.3 971.0,1513.8 975.5,1521.3 980.0,1530.0 981.7,1534.0 983.5,1538.7 986.9,1549.7 990.3,1562.1 993.8,1575.0 995.0,1579.1 996.9,1584.6 998.7,1590.7 999.6,1594.6 1000.5,1599.2 1001.5,1605.0 1002.4,1612.0 1002.6,1614.4 1002.8,1617.9 1003.1,1622.3 1003.3,1627.5 1003.5,1633.5 1003.8,1640.1 1004.2,1654.8 1005.1,1687.1 1005.5,1703.1 1006.0,1718.0 1007.2,1754.3 1007.6,1763.9 1007.9,1774.6 1008.2,1786.5 1008.5,1800.0 1008.6,1806.3 1008.8,1813.4 1008.9,1821.3 1009.0,1829.9 1009.2,1848.7 1009.5,1869.0 1010.0,1911.1 1010.2,1931.3 1010.5,1950.0 1011.2,2002.6 1011.6,2027.5 1011.8,2039.1 1012.0,2050.0 1012.2,2061.2 1012.4,2073.3 1012.6,2085.5 1012.8,2097.0 1012.9,2107.3 1013.0,2111.7 1013.1,2115.5 1013.2,2118.7 1013.3,2121.0 1013.4,2122.5 1013.5,2123.0 1013.6,2122.5 1013.6,2121.1 1013.7,2118.9 1013.8,2116.0 1013.8,2112.3 1013.9,2108.1 1014.0,2098.1 1014.1,2086.7 1014.2,2074.5 1014.5,2050.0 1014.6,2039.9 1014.7,2028.6 1014.8,2016.2 1014.9,2003.2 1015.1,1976.2 1015.3,1950.0 1015.4,1940.3 1015.4,1930.0 1015.6,1908.2 1015.9,1863.7 1016.0,1843.0 1016.1,1833.5 1016.2,1824.7 1016.3,1816.9 1016.4,1810.1 1016.4,1804.4 1016.5,1800.0 1016.7,1792.6 1016.8,1785.7 1017.0,1779.4 1017.1,1773.6 1017.4,1763.4 1017.8,1754.8 1018.1,1747.4 1018.4,1741.0 1019.0,1730.0 1019.8,1718.3 1020.5,1708.0 1021.2,1698.8 1022.0,1690.7 1022.8,1683.5 1023.5,1676.9 1025.0,1665.0 1026.6,1653.1 1028.2,1642.4 1029.1,1637.7 1029.9,1633.6 1030.7,1630.0 1031.5,1627.0 1034.4,1618.7 1037.2,1612.1 1040.1,1606.6 1043.0,1601.8 1046.5,1596.2 1050.0,1590.0 1067.0,1557.7 1070.0,1552.0 1079.5,1532.0 1084.2,1522.5 1086.6,1518.4 1089.0,1515.0 1091.0,1512.5 1095.8,1507.0 1100.5,1502.3 1105.2,1498.3 1110.0,1495.0 1115.0,1492.1 1125.0,1487.3 1135.0,1484.0 1139.0,1483.0 1163.0,1479.0 1170.0,1478.0 1187.0,1475.3 1200.0,1474.0 1211.0,1473.6 1235.0,1473.0 1259.0,1472.6 1283.0,1472.3 1300.0,1472.0 1307.0,1471.9 1331.0,1471.4 1355.0,1470.9 1379.0,1470.4 1400.0,1470.0 1403.0,1469.9 1427.0,1469.4 1451.0,1468.9 1475.0,1468.5 1499.0,1468.0 1500.0,1468.0 1523.0,1467.6 1547.0,1467.3 1571.0,1467.0 1595.0,1466.7 1619.0,1466.3 1643.0,1466.0 1645.0,1466.0" stroke="#008000" stroke-width="3.0" fill="none" stroke-linejoin="round"/>
<use href="#m12" x="300.1" y="1479.6"/><use href="#m12" x="302.3" y="1476.6"/><use href="#m12" x="304.5" y="1473.6"/><use href="#m12" x="306.7" y="1470.8"/><use href="#m12" x="308.9" y="1468.7"/><use href="#m12" x="311.1" y="1467.4"/><use href="#m12" x="313.3" y="1466.4"/><use href="#m12" x="315.5" y="1465.4"/><use href="#m12" x="317.7" y="1464.5"/><use href="#m12" x="319.9" y="1463.8"/><use href="#m12" x="322.1" y="1463.1"/><use href="#m12" x="324.3" y="1462.6"/><use href="#m12" x="326.5" y="1462.2"/><use href="#m12" x="328.7" y="1462.0"/><use href="#m12" x="330.9" y="1462.0"/><use href="#m12" x="333.1" y="1462.0"/><use href="#m12" x="335.3" y="1462.0"/><use href="#m12" x="337.5" y="1462.0"/><use href="#m12" x="339.7" y="1462.0"/><use href="#m12" x="341.9" y="1462.0"/><use href="#m12" x="344.1" y="1462.0"/><use href="#m12" x="346.3" y="1462.0"/><use href="#m12" x="348.5" y="1462.0"/><use href="#m12" x="350.7" y="1462.0"/><use href="#m12" x="352.9" y="1462.0"/><use href="#m12" x="355.1" y="1462.0"/><use href="#m12" x="357.3" y="1462.0"/><use href="#m12" x="359.5" y="1462.0"/><use href="#m12" x="361.7" y="1462.0"/><use href="#m12" x="363.9" y="1462.0"/><use href="#m12" x="366.1" y="1462.0"/><use href="#m12" x="368.3" y="1462.0"/><use href="#m12" x="370.5" y="1462.0"/><use href="#m12" x="372.7" y="1462.0"/><use href="#m12" x="374.9" y="1462.0"/><use href="#m12" x="377.1" y="1462.0"/><use href="#m12" x="379.3" y="1462.0"/><use href="#m12" x="381.5" y="1462.0"/><use href="#m12" x="383.7" y="1462.0"/><use href="#m12" x="385.9" y="1462.0"/><use href="#m12" x="388.1" y="1462.0"/><use href="#m12" x="390.3" y="1462.0"/><use href="#m12" x="392.5" y="1462.0"/><use href="#m12" x="394.7" y="1462.0"/><use href="#m12" x="396.9" y="1462.0"/><use href="#m12" x="399.1" y="1462.0"/><use href="#m12" x="401.3" y="1462.0"/><use href="#m12" x="403.5" y="1462.0"/><use href="#m12" x="405.7" y="1462.0"/><use href="#m12" x="407.9" y="1462.0"/><use href="#m12" x="410.1" y="1462.0"/><use href="#m12" x="412.3" y="1462.0"/><use href="#m12" x="414.5" y="1462.0"/><use href="#m12" x="416.7" y="1462.0"/><use href="#m12" x="418.9" y="1462.0"/><use href="#m12" x="421.1" y="1462.0"/><use href="#m12" x="423.3" y="1462.0"/><use href="#m12" x="425.5" y="1462.0"/><use href="#m12" x="427.7" y="1462.0"/><use href="#m12" x="429.9" y="1462.0"/><use href="#m12" x="432.1" y="1462.0"/><use href="#m12" x="434.3" y="1462.0"/><use href="#m12" x="436.5" y="1462.0"/><use href="#m12" x="438.7" y="1462.0"/><use href="#m12" x="440.9" y="1462.0"/><use href="#m12" x="443.1" y="1462.0"/><use href="#m12" x="445.3" y="1462.0"/><use href="#m12" x="447.5" y="1462.0"/><use href="#m12" x="449.7" y="1462.0"/><use href="#m12" x="451.9" y="1462.0"/><use href="#m12" x="454.1" y="1462.0"/><use href="#m12" x="456.3" y="1462.0"/><use href="#m12" x="458.5" y="1462.0"/><use href="#m12" x="460.7" y="1462.0"/><use href="#m12" x="462.9" y="1462.0"/><use href="#m12" x="465.1" y="1462.0"/><use href="#m12" x="467.3" y="1462.0"/><use href="#m12" x="469.5" y="1462.0"/><use href="#m12" x="471.7" y="1462.0"/><use href="#m12" x="473.9" y="1462.0"/><use href="#m12" x="476.1" y="1462.0"/><use href="#m12" x="478.3" y="1462.0"/><use href="#m12" x="480.5" y="1462.0"/><use href="#m12" x="482.7" y="1462.0"/><use href="#m12" x="484.9" y="1462.0"/><use href="#m12" x="487.1" y="1462.0"/><use href="#m12" x="489.3" y="1462.0"/><use href="#m12" x="491.5" y="1462.0"/><use href="#m12" x="493.7" y="1462.0"/><use href="#m12" x="495.9" y="1462.0"/><use href="#m12" x="498.1" y="1462.0"/><use href="#m12" x="500.3" y="1462.0"/><use href="#m12" x="502.5" y="1462.0"/><use href="#m12" x="504.7" y="1462.0"/><use href="#m12" x="506.9" y="1462.0"/><use href="#m12" x="509.1" y="1462.0"/><use href="#m12" x="511.3" y="1462.0"/><use href="#m12" x="513.5" y="1462.0"/><use href="#m12" x="515.7" y="1462.0"/><use href="#m12" x="517.9" y="1462.0"/><use href="#m12" x="520.1" y="1462.0"/><use href="#m12" x="522.3" y="1462.0"/><use href="#m12" x="524.5" y="1462.0"/><use href="#m12" x="526.7" y="1462.0"/><use href="#m12" x="528.9" y="1462.0"/><use href="#m12" x="531.1" y="1462.0"/><use href="#m12" x="533.3" y="1462.0"/><use href="#m12" x="535.5" y="1462.0"/><use href="#m12" x="537.7" y="1462.0"/><use href="#m12" x="539.9" y="1462.0"/><use href="#m12" x="542.1" y="1462.0"/><use href="#m12" x="544.3" y="1462.0"/><use href="#m12" x="546.5" y="1462.0"/><use href="#m12" x="548.7" y="1462.0"/><use href="#m12" x="550.9" y="1462.0"/><use href="#m12" x="553.1" y="1462.0"/><use href="#m12" x="555.3" y="1462.0"/><use href="#m12" x="557.5" y="1462.0"/><use href="#m12" x="559.7" y="1462.0"/><use href="#m12" x="561.9" y="1462.0"/><use href="#m12" x="564.1" y="1462.0"/><use href="#m12" x="566.3" y="1462.0"/><use href="#m12" x="568.5" y="1462.0"/><use href="#m12" x="570.7" y="1462.0"/><use href="#m12" x="572.9" y="1462.0"/><use href="#m12" x="575.1" y="1462.0"/><use href="#m12" x="577.3" y="1462.0"/><use href="#m12" x="579.5" y="1462.0"/><use href="#m12" x="581.7" y="1462.0"/><use href="#m12" x="583.9" y="1462.0"/><use href="#m12" x="586.1" y="1462.0"/><use href="#m12" x="588.3" y="1462.0"/><use href="#m12" x="590.5" y="1462.0"/><use href="#m12" x="592.7" y="1462.0"/><use href="#m12" x="594.9" y="1462.0"/><use href="#m12" x="597.1" y="1462.0"/><use href="#m12" x="599.3" y="1462.0"/><use href="#m12" x="601.5" y="1462.0"/><use href="#m12" x="603.7" y="1462.0"/><use href="#m12" x="605.9" y="1462.0"/><use href="#m12" x="608.1" y="1462.0"/><use href="#m12" x="610.3" y="1462.0"/><use href="#m12" x="612.5" y="1462.0"/><use href="#m12" x="614.7" y="1462.0"/><use href="#m12" x="616.9" y="1462.0"/><use href="#m12" x="619.1" y="1462.0"/><use href="#m12" x="621.3" y="1462.0"/><use href="#m12" x="623.5" y="1462.0"/><use href="#m12" x="625.7" y="1462.0"/><use href="#m12" x="627.9" y="1462.0"/><use href="#m12" x="630.1" y="1462.0"/><use href="#m12" x="632.3" y="1462.0"/><use href="#m12" x="634.5" y="1462.0"/><use href="#m12" x="636.7" y="1462.0"/><use href="#m12" x="638.9" y="1462.0"/><use href="#m12" x="641.1" y="1462.0"/><use href="#m12" x="643.3" y="1462.0"/><use href="#m12" x="645.5" y="1462.0"/><use href="#m12" x="647.7" y="1462.0"/><use href="#m12" x="649.9" y="1462.0"/><use href="#m12" x="652.1" y="1462.0"/><use href="#m12" x="654.3" y="1462.0"/><use href="#m12" x="656.5" y="1462.0"/><use href="#m12" x="658.7" y="1462.0"/><use href="#m12" x="660.9" y="1462.0"/><use href="#m12" x="663.1" y="1462.0"/><use href="#m12" x="665.3" y="1462.0"/><use href="#m12" x="667.5" y="1462.0"/><use href="#m12" x="669.7" y="1462.1"/><use href="#m12" x="671.9" y="1462.1"/><use href="#m12" x="674.1" y="1462.1"/><use href="#m12" x="676.3" y="1462.1"/><use href="#m12" x="678.5" y="1462.1"/><use href="#m12" x="680.7" y="1462.1"/><use href="#m12" x="682.9" y="1462.1"/><use href="#m12" x="685.1" y="1462.1"/><use href="#m12" x="687.3" y="1462.1"/><use href="#m12" x="689.5" y="1462.1"/><use href="#m12" x="691.7" y="1462.1"/><use href="#m12" x="693.9" y="1462.1"/><use href="#m12" x="696.1" y="1462.1"/><use href="#m12" x="698.3" y="1462.1"/><use href="#m12" x="700.5" y="1462.1"/><use href="#m12" x="702.7" y="1462.1"/><use href="#m12" x="704.9" y="1462.1"/><use href="#m12" x="707.1" y="1462.1"/><use href="#m12" x="709.3" y="1462.1"/><use href="#m12" x="711.5" y="1462.1"/><use href="#m12" x="713.7" y="1462.2"/><use href="#m12" x="715.9" y="1462.2"/><use href="#m12" x="718.1" y="1462.2"/><use href="#m12" x="720.3" y="1462.2"/><use href="#m12" x="722.5" y="1462.2"/><use href="#m12" x="724.7" y="1462.2"/><use href="#m12" x="726.9" y="1462.2"/><use href="#m12" x="729.1" y="1462.2"/><use href="#m12" x="731.3" y="1462.2"/><use href="#m12" x="733.5" y="1462.2"/><use href="#m12" x="735.7" y="1462.2"/><use href="#m12" x="737.9" y="1462.2"/><use href="#m12" x="740.1" y="1462.3"/><use href="#m12" x="742.3" y="1462.3"/><use href="#m12" x="744.5" y="1462.3"/><use href="#m12" x="746.7" y="1462.3"/><use href="#m12" x="748.9" y="1462.3"/><use href="#m12" x="751.1" y="1462.3"/><use href="#m12" x="753.3" y="1462.3"/><use href="#m12" x="755.5" y="1462.3"/><use href="#m12" x="757.7" y="1462.3"/><use href="#m12" x="759.9" y="1462.3"/><use href="#m12" x="762.1" y="1462.4"/><use href="#m12" x="764.3" y="1462.4"/><use href="#m12" x="766.5" y="1462.4"/><use href="#m12" x="768.7" y="1462.4"/><use href="#m12" x="770.9" y="1462.4"/><use href="#m12" x="773.1" y="1462.4"/><use href="#m12" x="775.3" y="1462.4"/><use href="#m12" x="777.5" y="1462.4"/><use href="#m12" x="779.7" y="1462.4"/><use href="#m12" x="781.9" y="1462.5"/><use href="#m12" x="784.1" y="1462.5"/><use href="#m12" x="786.3" y="1462.5"/><use href="#m12" x="788.5" y="1462.5"/><use href="#m12" x="790.7" y="1462.5"/><use href="#m12" x="792.9" y="1462.5"/><use href="#m12" x="795.1" y="1462.5"/><use href="#m12" x="797.3" y="1462.6"/><use href="#m12" x="799.5" y="1462.6"/><use href="#m12" x="801.7" y="1462.6"/><use href="#m12" x="803.9" y="1462.6"/><use href="#m12" x="806.1" y="1462.6"/><use href="#m12" x="808.3" y="1462.6"/><use href="#m12" x="810.5" y="1462.7"/><use href="#m12" x="812.7" y="1462.7"/><use href="#m12" x="814.9" y="1462.7"/><use href="#m12" x="817.1" y="1462.7"/><use href="#m12" x="819.3" y="1462.7"/><use href="#m12" x="821.5" y="1462.7"/><use href="#m12" x="823.7" y="1462.8"/><use href="#m12" x="825.9" y="1462.8"/><use href="#m12" x="828.1" y="1462.8"/><use href="#m12" x="830.3" y="1462.8"/><use href="#m12" x="832.5" y="1462.8"/><use href="#m12" x="834.7" y="1462.9"/><use href="#m12" x="836.9" y="1462.9"/><use href="#m12" x="839.1" y="1462.9"/><use href="#m12" x="841.3" y="1462.9"/><use href="#m12" x="843.5" y="1462.9"/><use href="#m12" x="845.7" y="1463.0"/><use href="#m12" x="847.9" y="1463.0"/><use href="#m12" x="850.1" y="1463.0"/><use href="#m12" x="852.3" y="1463.0"/><use href="#m12" x="854.5" y="1463.1"/><use href="#m12" x="856.7" y="1463.2"/><use href="#m12" x="858.9" y="1463.4"/><use href="#m12" x="861.1" y="1463.6"/><use href="#m12" x="863.3" y="1463.8"/><use href="#m12" x="865.5" y="1464.0"/><use href="#m12" x="867.7" y="1464.3"/><use href="#m12" x="869.9" y="1464.5"/><use href="#m12" x="872.1" y="1464.9"/><use href="#m12" x="874.3" y="1465.2"/><use href="#m12" x="876.5" y="1465.5"/><use href="#m12" x="878.7" y="1465.9"/><use href="#m12" x="880.9" y="1466.3"/><use href="#m12" x="883.1" y="1466.7"/><use href="#m12" x="885.3" y="1467.1"/><use href="#m12" x="887.5" y="1467.5"/><use href="#m12" x="889.7" y="1467.9"/><use href="#m12" x="891.9" y="1468.4"/><use href="#m12" x="894.1" y="1468.8"/><use href="#m12" x="896.3" y="1469.2"/><use href="#m12" x="898.5" y="1469.7"/><use href="#m12" x="900.7" y="1470.1"/><use href="#m12" x="902.9" y="1470.6"/><use href="#m12" x="905.1" y="1471.1"/><use href="#m12" x="907.3" y="1471.7"/><use href="#m12" x="909.5" y="1472.2"/><use href="#m12" x="911.7" y="1472.9"/><use href="#m12" x="913.9" y="1473.5"/><use href="#m12" x="916.1" y="1474.2"/><use href="#m12" x="918.3" y="1474.9"/><use href="#m12" x="920.5" y="1475.6"/><use href="#m12" x="922.7" y="1476.4"/><use href="#m12" x="924.9" y="1477.3"/><use href="#m12" x="927.1" y="1478.1"/><use href="#m12" x="929.3" y="1479.0"/><use href="#m12" x="931.5" y="1480.0"/><use href="#m12" x="933.7" y="1481.0"/><use href="#m12" x="935.9" y="1482.0"/><use href="#m12" x="938.1" y="1483.0"/><use href="#m12" x="940.3" y="1484.2"/><use href="#m12" x="942.5" y="1485.4"/><use href="#m12" x="944.7" y="1486.8"/><use href="#m12" x="946.9" y="1488.3"/><use href="#m12" x="949.1" y="1489.9"/><use href="#m12" x="951.3" y="1491.7"/><use href="#m12" x="953.5" y="1493.7"/><use href="#m12" x="955.7" y="1495.7"/><use href="#m12" x="957.9" y="1497.9"/><use href="#m12" x="960.1" y="1500.1"/><use href="#m12" x="962.3" y="1502.5"/><use href="#m12" x="964.5" y="1505.0"/><use href="#m12" x="966.7" y="1507.8"/><use href="#m12" x="968.9" y="1510.8"/><use href="#m12" x="971.1" y="1514.0"/><use href="#m12" x="973.3" y="1517.5"/><use href="#m12" x="975.5" y="1521.3"/><use href="#m12" x="977.7" y="1525.4"/><use href="#m12" x="979.9" y="1529.8"/><use href="#m12" x="982.1" y="1535.0"/><use href="#m12" x="984.3" y="1541.2"/><use href="#m12" x="1027.0" y="1650.5"/><use href="#m12" x="1029.0" y="1638.1"/><use href="#m12" x="1031.0" y="1628.7"/><use href="#m12" x="1033.0" y="1622.4"/><use href="#m12" x="1035.0" y="1617.1"/><use href="#m12" x="1037.0" y="1612.6"/><use href="#m12" x="1039.0" y="1608.6"/><use href="#m12" x="1041.0" y="1605.1"/><use href="#m12" x="1043.0" y="1601.8"/><use href="#m12" x="1045.0" y="1598.6"/><use href="#m12" x="1047.0" y="1595.4"/><use href="#m12" x="1049.0" y="1591.9"/><use href="#m12" x="1051.0" y="1588.1"/><use href="#m12" x="1053.0" y="1584.2"/><use href="#m12" x="1055.0" y="1580.4"/><use href="#m12" x="1057.0" y="1576.6"/><use href="#m12" x="1059.0" y="1572.8"/><use href="#m12" x="1061.0" y="1569.1"/><use href="#m12" x="1063.0" y="1565.3"/><use href="#m12" x="1065.0" y="1561.5"/><use href="#m12" x="1067.0" y="1557.7"/><use href="#m12" x="1069.0" y="1553.9"/><use href="#m12" x="1071.0" y="1550.0"/><use href="#m12" x="1073.0" y="1545.9"/><use href="#m12" x="1075.0" y="1541.7"/><use href="#m12" x="1077.0" y="1537.4"/><use href="#m12" x="1079.0" y="1533.1"/><use href="#m12" x="1081.0" y="1528.9"/><use href="#m12" x="1083.0" y="1524.9"/><use href="#m12" x="1085.0" y="1521.2"/><use href="#m12" x="1087.0" y="1517.8"/><use href="#m12" x="1089.0" y="1515.0"/><use href="#m12" x="1091.0" y="1512.5"/><use href="#m12" x="1093.0" y="1510.1"/><use href="#m12" x="1095.0" y="1507.8"/><use href="#m12" x="1097.0" y="1505.7"/><use href="#m12" x="1099.0" y="1503.7"/><use href="#m12" x="1101.0" y="1501.8"/><use href="#m12" x="1103.0" y="1500.1"/><use href="#m12" x="1105.0" y="1498.5"/><use href="#m12" x="1107.0" y="1497.0"/><use href="#m12" x="1109.0" y="1495.6"/><use href="#m12" x="1111.0" y="1494.4"/><use href="#m12" x="1113.0" y="1493.2"/><use href="#m12" x="1115.0" y="1492.1"/><use href="#m12" x="1117.0" y="1491.0"/><use href="#m12" x="1119.0" y="1490.0"/><use href="#m12" x="1121.0" y="1489.1"/><use href="#m12" x="1123.0" y="1488.2"/><use href="#m12" x="1125.0" y="1487.3"/><use href="#m12" x="1127.0" y="1486.5"/><use href="#m12" x="1129.0" y="1485.8"/><use href="#m12" x="1131.0" y="1485.1"/><use href="#m12" x="1133.0" y="1484.5"/><use href="#m12" x="1135.0" y="1484.0"/><use href="#m12" x="1137.0" y="1483.5"/><use href="#m12" x="1139.0" y="1483.0"/><use href="#m12" x="1151.5" y="1480.7"/><use href="#m12" x="1153.7" y="1480.4"/><use href="#m12" x="1155.9" y="1480.0"/><use href="#m12" x="1158.1" y="1479.7"/><use href="#m12" x="1160.3" y="1479.4"/><use href="#m12" x="1162.5" y="1479.1"/><use href="#m12" x="1164.7" y="1478.8"/><use href="#m12" x="1166.9" y="1478.5"/><use href="#m12" x="1169.1" y="1478.1"/><use href="#m12" x="1171.3" y="1477.8"/><use href="#m12" x="1173.5" y="1477.5"/><use href="#m12" x="1175.7" y="1477.1"/><use href="#m12" x="1177.9" y="1476.7"/><use href="#m12" x="1180.1" y="1476.4"/><use href="#m12" x="1182.3" y="1476.0"/><use href="#m12" x="1184.5" y="1475.7"/><use href="#m12" x="1186.7" y="1475.3"/><use href="#m12" x="1188.9" y="1475.0"/><use href="#m12" x="1191.1" y="1474.7"/><use href="#m12" x="1193.3" y="1474.5"/><use href="#m12" x="1195.5" y="1474.3"/><use href="#m12" x="1197.7" y="1474.1"/><use href="#m12" x="1199.9" y="1474.0"/><use href="#m12" x="1202.1" y="1473.9"/><use href="#m12" x="1204.3" y="1473.8"/><use href="#m12" x="1206.5" y="1473.8"/><use href="#m12" x="1208.7" y="1473.7"/><use href="#m12" x="1210.9" y="1473.6"/><use href="#m12" x="1213.1" y="1473.5"/><use href="#m12" x="1215.3" y="1473.5"/><use href="#m12" x="1217.5" y="1473.4"/><use href="#m12" x="1219.7" y="1473.4"/><use href="#m12" x="1221.9" y="1473.3"/><use href="#m12" x="1224.1" y="1473.2"/><use href="#m12" x="1226.3" y="1473.2"/><use href="#m12" x="1228.5" y="1473.1"/><use href="#m12" x="1230.7" y="1473.1"/><use href="#m12" x="1232.9" y="1473.0"/><use href="#m12" x="1235.1" y="1473.0"/><use href="#m12" x="1237.3" y="1473.0"/><use href="#m12" x="1239.5" y="1472.9"/><use href="#m12" x="1241.7" y="1472.9"/><use href="#m12" x="1243.9" y="1472.8"/><use href="#m12" x="1246.1" y="1472.8"/><use href="#m12" x="1248.3" y="1472.8"/><use href="#m12" x="1250.5" y="1472.7"/><use href="#m12" x="1252.7" y="1472.7"/><use href="#m12" x="1254.9" y="1472.7"/><use href="#m12" x="1257.1" y="1472.6"/><use href="#m12" x="1259.3" y="1472.6"/><use href="#m12" x="1261.5" y="1472.6"/><use href="#m12" x="1263.7" y="1472.6"/><use href="#m12" x="1265.9" y="1472.5"/><use href="#m12" x="1268.1" y="1472.5"/><use href="#m12" x="1270.3" y="1472.5"/><use href="#m12" x="1272.5" y="1472.4"/><use href="#m12" x="1274.7" y="1472.4"/><use href="#m12" x="1276.9" y="1472.4"/><use href="#m12" x="1279.1" y="1472.3"/><use href="#m12" x="1281.3" y="1472.3"/><use href="#m12" x="1283.5" y="1472.3"/><use href="#m12" x="1285.7" y="1472.3"/><use href="#m12" x="1287.9" y="1472.2"/><use href="#m12" x="1290.1" y="1472.2"/><use href="#m12" x="1292.3" y="1472.1"/><use href="#m12" x="1294.5" y="1472.1"/><use href="#m12" x="1296.7" y="1472.1"/><use href="#m12" x="1298.9" y="1472.0"/><use href="#m12" x="1301.1" y="1472.0"/><use href="#m12" x="1303.3" y="1471.9"/><use href="#m12" x="1305.5" y="1471.9"/><use href="#m12" x="1307.7" y="1471.8"/><use href="#m12" x="1309.9" y="1471.8"/><use href="#m12" x="1312.1" y="1471.8"/><use href="#m12" x="1314.3" y="1471.7"/><use href="#m12" x="1316.5" y="1471.7"/><use href="#m12" x="1318.7" y="1471.6"/><use href="#m12" x="1320.9" y="1471.6"/><use href="#m12" x="1323.1" y="1471.5"/><use href="#m12" x="1325.3" y="1471.5"/><use href="#m12" x="1327.5" y="1471.5"/><use href="#m12" x="1329.7" y="1471.4"/><use href="#m12" x="1331.9" y="1471.4"/><use href="#m12" x="1334.1" y="1471.3"/><use href="#m12" x="1336.3" y="1471.3"/><use href="#m12" x="1338.5" y="1471.2"/><use href="#m12" x="1340.7" y="1471.2"/><use href="#m12" x="1342.9" y="1471.1"/><use href="#m12" x="1345.1" y="1471.1"/><use href="#m12" x="1347.3" y="1471.1"/><use href="#m12" x="1349.5" y="1471.0"/><use href="#m12" x="1351.7" y="1471.0"/><use href="#m12" x="1353.9" y="1470.9"/><use href="#m12" x="1356.1" y="1470.9"/><use href="#m12" x="1358.3" y="1470.8"/><use href="#m12" x="1360.5" y="1470.8"/><use href="#m12" x="1362.7" y="1470.7"/><use href="#m12" x="1364.9" y="1470.7"/><use href="#m12" x="1367.1" y="1470.7"/><use href="#m12" x="1369.3" y="1470.6"/><use href="#m12" x="1371.5" y="1470.6"/><use href="#m12" x="1373.7" y="1470.5"/><use href="#m12" x="1375.9" y="1470.5"/><use href="#m12" x="1378.1" y="1470.4"/><use href="#m12" x="1380.3" y="1470.4"/><use href="#m12" x="1382.5" y="1470.4"/><use href="#m12" x="1384.7" y="1470.3"/><use href="#m12" x="1386.9" y="1470.3"/><use href="#m12" x="1389.1" y="1470.2"/><use href="#m12" x="1391.3" y="1470.2"/><use href="#m12" x="1393.5" y="1470.1"/><use href="#m12" x="1395.7" y="1470.1"/><use href="#m12" x="1397.9" y="1470.0"/><use href="#m12" x="1400.1" y="1470.0"/><use href="#m12" x="1402.3" y="1470.0"/><use href="#m12" x="1404.5" y="1469.9"/><use href="#m12" x="1406.7" y="1469.9"/><use href="#m12" x="1408.9" y="1469.8"/><use href="#m12" x="1411.1" y="1469.8"/><use href="#m12" x="1413.3" y="1469.7"/><use href="#m12" x="1415.5" y="1469.7"/><use href="#m12" x="1417.7" y="1469.6"/><use href="#m12" x="1419.9" y="1469.6"/><use href="#m12" x="1422.1" y="1469.5"/><use href="#m12" x="1424.3" y="1469.5"/><use href="#m12" x="1426.5" y="1469.5"/><use href="#m12" x="1428.7" y="1469.4"/><use href="#m12" x="1430.9" y="1469.4"/><use href="#m12" x="1433.1" y="1469.3"/><use href="#m12" x="1435.3" y="1469.3"/><use href="#m12" x="1437.5" y="1469.2"/><use href="#m12" x="1439.7" y="1469.2"/><use href="#m12" x="1441.9" y="1469.1"/><use href="#m12" x="1444.1" y="1469.1"/><use href="#m12" x="1446.3" y="1469.0"/><use href="#m12" x="1448.5" y="1469.0"/><use href="#m12" x="1450.7" y="1468.9"/><use href="#m12" x="1452.9" y="1468.9"/><use href="#m12" x="1455.1" y="1468.9"/><use href="#m12" x="1457.3" y="1468.8"/><use href="#m12" x="1459.5" y="1468.8"/><use href="#m12" x="1461.7" y="1468.7"/><use href="#m12" x="1463.9" y="1468.7"/><use href="#m12" x="1466.1" y="1468.6"/><use href="#m12" x="1468.3" y="1468.6"/><use href="#m12" x="1470.5" y="1468.5"/><use href="#m12" x="1472.7" y="1468.5"/><use href="#m12" x="1474.9" y="1468.5"/><use href="#m12" x="1477.1" y="1468.4"/><use href="#m12" x="1479.3" y="1468.4"/><use href="#m12" x="1481.5" y="1468.3"/><use href="#m12" x="1483.7" y="1468.3"/><use href="#m12" x="1485.9" y="1468.2"/><use href="#m12" x="1488.1" y="1468.2"/><use href="#m12" x="1490.3" y="1468.2"/><use href="#m12" x="1492.5" y="1468.1"/><use href="#m12" x="1494.7" y="1468.1"/><use href="#m12" x="1496.9" y="1468.1"/><use href="#m12" x="1499.1" y="1468.0"/><use href="#m12" x="1501.3" y="1468.0"/><use href="#m12" x="1503.5" y="1467.9"/><use href="#m12" x="1505.7" y="1467.9"/><use href="#m12" x="1507.9" y="1467.9"/><use href="#m12" x="1510.1" y="1467.8"/><use href="#m12" x="1512.3" y="1467.8"/><use href="#m12" x="1514.5" y="1467.8"/><use href="#m12" x="1516.7" y="1467.7"/><use href="#m12" x="1518.9" y="1467.7"/><use href="#m12" x="1521.1" y="1467.7"/><use href="#m12" x="1523.3" y="1467.6"/><use href="#m12" x="1525.5" y="1467.6"/><use href="#m12" x="1527.7" y="1467.6"/><use href="#m12" x="1529.9" y="1467.5"/><use href="#m12" x="1532.1" y="1467.5"/><use href="#m12" x="1534.3" y="1467.5"/><use href="#m12" x="1536.5" y="1467.4"/><use href="#m12" x="1538.7" y="1467.4"/><use href="#m12" x="1540.9" y="1467.4"/><use href="#m12" x="1543.1" y="1467.3"/><use href="#m12" x="1545.3" y="1467.3"/><use href="#m12" x="1547.5" y="1467.3"/><use href="#m12" x="1549.7" y="1467.3"/><use href="#m12" x="1551.9" y="1467.2"/><use href="#m12" x="1554.1" y="1467.2"/><use href="#m12" x="1556.3" y="1467.2"/><use href="#m12" x="1558.5" y="1467.1"/><use href="#m12" x="1560.7" y="1467.1"/><use href="#m12" x="1562.9" y="1467.1"/><use href="#m12" x="1565.1" y="1467.0"/><use href="#m12" x="1567.3" y="1467.0"/><use href="#m12" x="1569.5" y="1467.0"/><use href="#m12" x="1571.7" y="1467.0"/><use href="#m12" x="1573.9" y="1466.9"/><use href="#m12" x="1576.1" y="1466.9"/><use href="#m12" x="1578.3" y="1466.9"/><use href="#m12" x="1580.5" y="1466.8"/><use href="#m12" x="1582.7" y="1466.8"/><use href="#m12" x="1584.9" y="1466.8"/><use href="#m12" x="1587.1" y="1466.8"/><use href="#m12" x="1589.3" y="1466.7"/><use href="#m12" x="1591.5" y="1466.7"/><use href="#m12" x="1593.7" y="1466.7"/><use href="#m12" x="1595.9" y="1466.6"/><use href="#m12" x="1598.1" y="1466.6"/><use href="#m12" x="1600.3" y="1466.6"/><use href="#m12" x="1602.5" y="1466.6"/><use href="#m12" x="1604.7" y="1466.5"/><use href="#m12" x="1606.9" y="1466.5"/><use href="#m12" x="1609.1" y="1466.5"/><use href="#m12" x="1611.3" y="1466.4"/><use href="#m12" x="1613.5" y="1466.4"/><use href="#m12" x="1615.7" y="1466.4"/><use href="#m12" x="1617.9" y="1466.4"/><use href="#m12" x="1620.1" y="1466.3"/><use href="#m12" x="1622.3" y="1466.3"/><use href="#m12" x="1624.5" y="1466.3"/><use href="#m12" x="1626.7" y="1466.2"/><use href="#m12" x="1628.9" y="1466.2"/><use href="#m12" x="1631.1" y="1466.2"/><use href="#m12" x="1633.3" y="1466.2"/><use href="#m12" x="1635.5" y="1466.1"/><use href="#m12" x="1637.7" y="1466.1"/><use href="#m12" x="1639.9" y="1466.1"/><use href="#m12" x="1642.1" y="1466.0"/><use href="#m12" x="1644.3" y="1466.0"/><use href="#m12" x="993.8" y="1597.0"/><use href="#m12" x="1005.7" y="1718.0"/><use href="#m12" x="1008.5" y="2008.6"/><use href="#m12" x="1015.7" y="2092.0"/><use href="#m12" x="1019.0" y="1807.6"/>
<path d="M290.0,1440.0 301.8,1446.0 314.0,1454.5 319.0,1457.0 328.5,1460.0 333.2,1461.1 338.0,1461.7 339.5,1461.7 362.0,1461.8 386.0,1461.8 410.0,1461.8 434.0,1461.9 458.0,1461.9 482.0,1461.9 506.0,1461.9 530.0,1461.9 554.0,1461.9 578.0,1462.0 600.0,1462.0 602.0,1462.0 626.0,1462.0 650.0,1462.1 674.0,1462.1 698.0,1462.2 722.0,1462.2 746.0,1462.3 770.0,1462.4 794.0,1462.6 818.0,1462.7 842.0,1462.9 850.0,1463.0 866.0,1463.8 890.0,1466.5 900.0,1468.0 914.0,1471.0 938.0,1478.6 947.2,1481.6 962.0,1486.1 971.0,1489.5 978.5,1492.6 986.0,1496.6 990.9,1500.5 995.8,1506.0 997.1,1508.6 998.4,1512.8 999.7,1518.4 1001.0,1525.0 1001.5,1528.2 1002.0,1532.2 1002.5,1536.8 1003.0,1541.9 1005.0,1565.0 1006.0,1577.1 1007.0,1590.1 1008.0,1604.4 1009.0,1620.0 1010.0,1637.2 1010.8,1651.4 1011.5,1666.6 1012.2,1682.8 1013.0,1700.0 1013.9,1720.3 1014.3,1730.7 1014.8,1741.8 1015.2,1753.9 1015.6,1767.4 1016.1,1782.7 1016.3,1791.0 1016.5,1800.0 1016.6,1806.1 1016.8,1813.2 1016.9,1821.2 1017.0,1830.0 1017.2,1839.4 1017.3,1849.3 1017.5,1870.2 1018.1,1912.9 1018.3,1932.6 1018.5,1941.7 1018.6,1950.0 1019.1,1977.9 1019.5,2004.0 1019.8,2016.3 1020.0,2028.1 1020.3,2039.3 1020.5,2050.0 1020.9,2065.8 1021.2,2080.6 1021.6,2094.6 1022.0,2108.0 1023.5,2160.0 1023.7,2167.1 1023.9,2174.8 1024.2,2191.6 1025.0,2226.2 1025.2,2234.2 1025.4,2241.6 1025.6,2248.3 1025.8,2254.1 1025.9,2258.8 1026.1,2262.4 1026.3,2264.7 1026.5,2265.5 1026.5,2265.1 1026.6,2264.0 1026.6,2262.2 1026.7,2259.7 1026.7,2256.6 1026.7,2252.9 1026.8,2244.1 1026.9,2233.5 1027.0,2221.5 1027.1,2208.4 1027.2,2194.7 1027.3,2166.3 1027.4,2152.5 1027.5,2139.3 1027.6,2127.1 1027.6,2116.2 1027.7,2107.1 1027.8,2103.3 1027.8,2100.0 1028.0,2086.1 1028.2,2073.7 1028.4,2062.5 1028.6,2052.4 1028.8,2043.2 1029.0,2034.7 1029.4,2019.2 1029.8,2004.4 1030.2,1988.9 1030.4,1980.4 1030.6,1971.2 1030.8,1961.2 1031.0,1950.0 1031.1,1942.2 1031.2,1933.5 1031.4,1924.1 1031.5,1914.2 1031.8,1893.1 1032.0,1871.3 1032.2,1850.1 1032.4,1839.9 1032.5,1830.3 1032.6,1821.4 1032.8,1813.3 1032.9,1806.1 1033.0,1800.0 1033.2,1789.3 1033.5,1779.4 1033.8,1770.0 1034.0,1761.3 1034.2,1753.2 1034.5,1745.7 1035.0,1732.1 1035.5,1720.3 1036.0,1710.0 1036.6,1699.6 1037.1,1690.1 1037.7,1681.4 1038.2,1673.4 1038.8,1666.2 1039.4,1659.7 1039.9,1653.8 1040.5,1648.5 1041.7,1638.5 1042.9,1629.4 1044.1,1621.1 1045.2,1613.7 1046.4,1607.0 1047.6,1600.8 1050.0,1590.0 1052.0,1581.9 1054.0,1574.6 1056.0,1567.9 1058.0,1561.8 1061.7,1551.6 1065.4,1542.5 1073.7,1523.6 1077.8,1515.2 1082.0,1507.9 1085.3,1503.1 1088.6,1499.4 1092.9,1495.6 1097.3,1492.3 1106.0,1487.1 1113.2,1484.0 1121.6,1481.0 1130.0,1478.8 1135.4,1478.0 1154.0,1476.7 1178.0,1475.7 1200.0,1475.0 1202.0,1474.9 1226.0,1474.2 1250.0,1473.6 1274.0,1473.1 1298.0,1472.5 1300.0,1472.5 1322.0,1472.0 1346.0,1471.5 1370.0,1471.0 1394.0,1470.6 1400.0,1470.5 1418.0,1470.2 1442.0,1469.8 1466.0,1469.4 1490.0,1469.1 1500.0,1469.0 1514.0,1468.8 1538.0,1468.5 1562.0,1468.2 1586.0,1468.0 1600.0,1468.0 1610.0,1468.0 1634.0,1468.0 1636.0,1468.0 1636.2,1468.6 1636.5,1470.3 1636.8,1472.8 1637.0,1475.9 1638.0,1490.0 1638.8,1500.2 1639.5,1511.0" stroke="#000080" stroke-width="3.0" fill="none" stroke-linejoin="round"/>
<use href="#m13" x="339.3" y="1461.7"/><use href="#m13" x="362.7" y="1461.8"/><use href="#m13" x="386.0" y="1461.8"/><use href="#m13" x="409.4" y="1461.8"/><use href="#m13" x="432.8" y="1461.9"/><use href="#m13" x="456.2" y="1461.9"/><use href="#m13" x="479.6" y="1461.9"/><use href="#m13" x="502.9" y="1461.9"/><use href="#m13" x="526.3" y="1461.9"/><use href="#m13" x="549.7" y="1461.9"/><use href="#m13" x="573.1" y="1462.0"/><use href="#m13" x="596.5" y="1462.0"/><use href="#m13" x="619.8" y="1462.0"/><use href="#m13" x="643.2" y="1462.1"/><use href="#m13" x="666.6" y="1462.1"/><use href="#m13" x="690.0" y="1462.2"/><use href="#m13" x="713.4" y="1462.2"/><use href="#m13" x="736.7" y="1462.3"/><use href="#m13" x="760.1" y="1462.4"/><use href="#m13" x="783.5" y="1462.5"/><use href="#m13" x="806.9" y="1462.6"/><use href="#m13" x="830.3" y="1462.8"/><use href="#m13" x="853.6" y="1463.1"/><use href="#m13" x="877.0" y="1464.9"/><use href="#m13" x="900.4" y="1468.1"/><use href="#m13" x="923.8" y="1473.9"/><use href="#m13" x="947.2" y="1481.6"/><use href="#m13" x="970.5" y="1489.3"/><use href="#m13" x="1112.5" y="1484.3"/><use href="#m13" x="1136.4" y="1477.9"/><use href="#m13" x="1160.3" y="1476.4"/><use href="#m13" x="1184.2" y="1475.5"/><use href="#m13" x="1208.1" y="1474.7"/><use href="#m13" x="1232.0" y="1474.1"/><use href="#m13" x="1255.9" y="1473.5"/><use href="#m13" x="1279.8" y="1472.9"/><use href="#m13" x="1303.7" y="1472.4"/><use href="#m13" x="1327.6" y="1471.9"/><use href="#m13" x="1351.5" y="1471.4"/><use href="#m13" x="1375.4" y="1470.9"/><use href="#m13" x="1399.3" y="1470.5"/><use href="#m13" x="1423.2" y="1470.1"/><use href="#m13" x="1447.1" y="1469.7"/><use href="#m13" x="1471.0" y="1469.4"/><use href="#m13" x="1494.9" y="1469.1"/><use href="#m13" x="1518.8" y="1468.8"/><use href="#m13" x="1542.7" y="1468.4"/><use href="#m13" x="1566.6" y="1468.2"/><use href="#m13" x="1590.5" y="1468.0"/><use href="#m13" x="1614.4" y="1468.0"/><use href="#m13" x="301.8" y="1446.0"/><use href="#m13" x="319.0" y="1457.0"/><use href="#m13" x="995.8" y="1506.0"/><use href="#m13" x="1018.6" y="2010.8"/><use href="#m13" x="1040.5" y="1648.5"/><use href="#m13" x="1065.4" y="1542.5"/><use href="#m13" x="1088.6" y="1499.4"/>
</g>
<rect x="252.3" y="33.5" width="1348.0" height="1001.2" fill="none" stroke="#000" stroke-width="3.2"/>
<line x1="356.2" y1="1034.7" x2="356.2" y2="1055.2" stroke="#000" stroke-width="3.2"/>
<line x1="563.5" y1="1034.7" x2="563.5" y2="1055.2" stroke="#000" stroke-width="3.2"/>
<line x1="770.9" y1="1034.7" x2="770.9" y2="1055.2" stroke="#000" stroke-width="3.2"/>
<line x1="978.2" y1="1034.7" x2="978.2" y2="1055.2" stroke="#000" stroke-width="3.2"/>
<line x1="1185.6" y1="1034.7" x2="1185.6" y2="1055.2" stroke="#000" stroke-width="3.2"/>
<line x1="1392.9" y1="1034.7" x2="1392.9" y2="1055.2" stroke="#000" stroke-width="3.2"/>
<line x1="1600.3" y1="1034.7" x2="1600.3" y2="1055.2" stroke="#000" stroke-width="3.2"/>
<line x1="252.5" y1="1034.7" x2="252.5" y2="1045.2" stroke="#000" stroke-width="3.2"/>
<line x1="459.9" y1="1034.7" x2="459.9" y2="1045.2" stroke="#000" stroke-width="3.2"/>
<line x1="667.2" y1="1034.7" x2="667.2" y2="1045.2" stroke="#000" stroke-width="3.2"/>
<line x1="874.6" y1="1034.7" x2="874.6" y2="1045.2" stroke="#000" stroke-width="3.2"/>
<line x1="1081.9" y1="1034.7" x2="1081.9" y2="1045.2" stroke="#000" stroke-width="3.2"/>
<line x1="1289.3" y1="1034.7" x2="1289.3" y2="1045.2" stroke="#000" stroke-width="3.2"/>
<line x1="1496.6" y1="1034.7" x2="1496.6" y2="1045.2" stroke="#000" stroke-width="3.2"/>
<line x1="231.8" y1="1034.7" x2="252.3" y2="1034.7" stroke="#000" stroke-width="3.2"/>
<line x1="231.8" y1="844.0" x2="252.3" y2="844.0" stroke="#000" stroke-width="3.2"/>
<line x1="231.8" y1="653.3" x2="252.3" y2="653.3" stroke="#000" stroke-width="3.2"/>
<line x1="231.8" y1="462.6" x2="252.3" y2="462.6" stroke="#000" stroke-width="3.2"/>
<line x1="231.8" y1="271.9" x2="252.3" y2="271.9" stroke="#000" stroke-width="3.2"/>
<line x1="231.8" y1="81.2" x2="252.3" y2="81.2" stroke="#000" stroke-width="3.2"/>
<line x1="241.8" y1="939.4" x2="252.3" y2="939.4" stroke="#000" stroke-width="3.2"/>
<line x1="241.8" y1="748.7" x2="252.3" y2="748.7" stroke="#000" stroke-width="3.2"/>
<line x1="241.8" y1="558.0" x2="252.3" y2="558.0" stroke="#000" stroke-width="3.2"/>
<line x1="241.8" y1="367.2" x2="252.3" y2="367.2" stroke="#000" stroke-width="3.2"/>
<line x1="241.8" y1="176.6" x2="252.3" y2="176.6" stroke="#000" stroke-width="3.2"/>
<text transform="translate(218.0,1049.0) scale(1,1.04)" text-anchor="end" font-size="51">0</text>
<text transform="translate(218.0,858.3) scale(1,1.04)" text-anchor="end" font-size="51">20</text>
<text transform="translate(218.0,667.6) scale(1,1.04)" text-anchor="end" font-size="51">40</text>
<text transform="translate(218.0,476.9) scale(1,1.04)" text-anchor="end" font-size="51">60</text>
<text transform="translate(218.0,286.2) scale(1,1.04)" text-anchor="end" font-size="51">80</text>
<text transform="translate(218.0,95.5) scale(1,1.04)" text-anchor="end" font-size="51">100</text>
<text transform="translate(356.2,1108.0) scale(1,1.04)" text-anchor="middle" font-size="51">100</text>
<text transform="translate(563.5,1108.0) scale(1,1.04)" text-anchor="middle" font-size="51">200</text>
<text transform="translate(770.9,1108.0) scale(1,1.04)" text-anchor="middle" font-size="51">300</text>
<text transform="translate(978.2,1108.0) scale(1,1.04)" text-anchor="middle" font-size="51">400</text>
<text transform="translate(1185.6,1108.0) scale(1,1.04)" text-anchor="middle" font-size="51">500</text>
<text transform="translate(1392.9,1108.0) scale(1,1.04)" text-anchor="middle" font-size="51">600</text>
<text transform="translate(1600.3,1108.0) scale(1,1.04)" text-anchor="middle" font-size="51">700</text>
<rect x="262.5" y="1382.3" width="1385.8" height="1032.2" fill="none" stroke="#000" stroke-width="3.2"/>
<line x1="429.8" y1="2414.5" x2="429.8" y2="2435.0" stroke="#000" stroke-width="3.2"/>
<line x1="620.2" y1="2414.5" x2="620.2" y2="2435.0" stroke="#000" stroke-width="3.2"/>
<line x1="810.6" y1="2414.5" x2="810.6" y2="2435.0" stroke="#000" stroke-width="3.2"/>
<line x1="1001.0" y1="2414.5" x2="1001.0" y2="2435.0" stroke="#000" stroke-width="3.2"/>
<line x1="1191.4" y1="2414.5" x2="1191.4" y2="2435.0" stroke="#000" stroke-width="3.2"/>
<line x1="1381.8" y1="2414.5" x2="1381.8" y2="2435.0" stroke="#000" stroke-width="3.2"/>
<line x1="1572.2" y1="2414.5" x2="1572.2" y2="2435.0" stroke="#000" stroke-width="3.2"/>
<line x1="334.6" y1="2414.5" x2="334.6" y2="2425.0" stroke="#000" stroke-width="3.2"/>
<line x1="525.0" y1="2414.5" x2="525.0" y2="2425.0" stroke="#000" stroke-width="3.2"/>
<line x1="715.4" y1="2414.5" x2="715.4" y2="2425.0" stroke="#000" stroke-width="3.2"/>
<line x1="905.8" y1="2414.5" x2="905.8" y2="2425.0" stroke="#000" stroke-width="3.2"/>
<line x1="1096.2" y1="2414.5" x2="1096.2" y2="2425.0" stroke="#000" stroke-width="3.2"/>
<line x1="1286.6" y1="2414.5" x2="1286.6" y2="2425.0" stroke="#000" stroke-width="3.2"/>
<line x1="1477.0" y1="2414.5" x2="1477.0" y2="2425.0" stroke="#000" stroke-width="3.2"/>
<line x1="242.0" y1="1461.5" x2="262.5" y2="1461.5" stroke="#000" stroke-width="3.2"/>
<line x1="242.0" y1="1620.4" x2="262.5" y2="1620.4" stroke="#000" stroke-width="3.2"/>
<line x1="242.0" y1="1779.3" x2="262.5" y2="1779.3" stroke="#000" stroke-width="3.2"/>
<line x1="242.0" y1="1938.2" x2="262.5" y2="1938.2" stroke="#000" stroke-width="3.2"/>
<line x1="242.0" y1="2097.1" x2="262.5" y2="2097.1" stroke="#000" stroke-width="3.2"/>
<line x1="242.0" y1="2256.0" x2="262.5" y2="2256.0" stroke="#000" stroke-width="3.2"/>
<line x1="242.0" y1="2414.9" x2="262.5" y2="2414.9" stroke="#000" stroke-width="3.2"/>
<line x1="252.0" y1="1382.0" x2="262.5" y2="1382.0" stroke="#000" stroke-width="3.2"/>
<line x1="252.0" y1="1541.0" x2="262.5" y2="1541.0" stroke="#000" stroke-width="3.2"/>
<line x1="252.0" y1="1699.8" x2="262.5" y2="1699.8" stroke="#000" stroke-width="3.2"/>
<line x1="252.0" y1="1858.8" x2="262.5" y2="1858.8" stroke="#000" stroke-width="3.2"/>
<line x1="252.0" y1="2017.7" x2="262.5" y2="2017.7" stroke="#000" stroke-width="3.2"/>
<line x1="252.0" y1="2176.6" x2="262.5" y2="2176.6" stroke="#000" stroke-width="3.2"/>
<line x1="252.0" y1="2335.4" x2="262.5" y2="2335.4" stroke="#000" stroke-width="3.2"/>
<text transform="translate(227.0,1475.8) scale(1,1.04)" text-anchor="end" font-size="52.5">0</text>
<text transform="translate(227.0,1634.7) scale(1,1.04)" text-anchor="end" font-size="52.5">-10</text>
<text transform="translate(227.0,1793.6) scale(1,1.04)" text-anchor="end" font-size="52.5">-20</text>
<text transform="translate(227.0,1952.5) scale(1,1.04)" text-anchor="end" font-size="52.5">-30</text>
<text transform="translate(227.0,2111.4) scale(1,1.04)" text-anchor="end" font-size="52.5">-40</text>
<text transform="translate(227.0,2270.3) scale(1,1.04)" text-anchor="end" font-size="52.5">-50</text>
<text transform="translate(227.0,2429.2) scale(1,1.04)" text-anchor="end" font-size="52.5">-60</text>
<text transform="translate(429.8,2489.5) scale(1,1.04)" text-anchor="middle" font-size="52.5">100</text>
<text transform="translate(620.2,2489.5) scale(1,1.04)" text-anchor="middle" font-size="52.5">200</text>
<text transform="translate(810.6,2489.5) scale(1,1.04)" text-anchor="middle" font-size="52.5">300</text>
<text transform="translate(1001.0,2489.5) scale(1,1.04)" text-anchor="middle" font-size="52.5">400</text>
<text transform="translate(1191.4,2489.5) scale(1,1.04)" text-anchor="middle" font-size="52.5">500</text>
<text transform="translate(1381.8,2489.5) scale(1,1.04)" text-anchor="middle" font-size="52.5">600</text>
<text transform="translate(1572.2,2489.5) scale(1,1.04)" text-anchor="middle" font-size="52.5">700</text>
<text x="926.5" y="1200.5" text-anchor="middle" font-size="55">Temperature <tspan font-weight="normal">(</tspan><tspan font-weight="normal" dy="-5">◦</tspan><tspan dy="5">​</tspan>C<tspan font-weight="normal">)</tspan></text>
<text x="955" y="2584.5" text-anchor="middle" font-size="56.6">Temperature <tspan font-weight="normal">(</tspan><tspan font-weight="normal" dy="-5">◦</tspan><tspan dy="5">​</tspan>C<tspan font-weight="normal">)</tspan></text>
<text transform="translate(99.3,571.8) rotate(-90)" text-anchor="middle" font-size="56.5">Weight <tspan font-weight="normal">(</tspan>%<tspan font-weight="normal">)</tspan></text>
<text transform="translate(81,1888) rotate(-90)" text-anchor="middle" font-size="57.9">Derivative weight <tspan font-weight="normal">(</tspan>wt%/min<tspan font-weight="normal">)</tspan></text>
<text x="843.6" y="1320.4" text-anchor="middle" font-family="'Liberation Serif', 'Times New Roman', serif" font-size="76"><tspan font-weight="normal">(</tspan>a<tspan font-weight="normal">)</tspan></text>
<text x="844.4" y="2718" text-anchor="middle" font-family="'Liberation Serif', 'Times New Roman', serif" font-size="79"><tspan font-weight="normal">(</tspan>b<tspan font-weight="normal">)</tspan></text>
<line x1="269" y1="579.4" x2="377.6" y2="579.4" stroke="#333" stroke-width="3.4"/>
<path d="M323.3 562.4V596.4M306.3 579.4H340.3M306.3 562.4L340.3 596.4M306.3 596.4L340.3 562.4" stroke="#000" stroke-width="1.8" fill="none"/>
<text transform="translate(391.3,595.0) scale(1,1.04)" font-size="50.6">PPZ</text>
<line x1="269" y1="643.2" x2="377.6" y2="643.2" stroke="#e00" stroke-width="3.4"/>
<rect x="309.8" y="629.7" width="27.0" height="27.0" fill="#fff" stroke="#f00" stroke-width="1.8"/>
<text transform="translate(391.3,658.8) scale(1,1.04)" font-size="50.6">PI-1 <tspan font-weight="normal">(</tspan>HBPDA-ODA<tspan font-weight="normal">)</tspan></text>
<line x1="269" y1="707.1" x2="377.6" y2="707.1" stroke="#00c" stroke-width="3.4"/>
<circle cx="323.3" cy="707.1" r="14.8" fill="#fff" stroke="#00f" stroke-width="1.8"/>
<text transform="translate(391.3,722.7) scale(1,1.04)" font-size="50.6">PI-2 <tspan font-weight="normal">(</tspan>HBPDA-ODA-PPZ-5<tspan font-weight="normal">)</tspan></text>
<line x1="269" y1="771.1" x2="377.6" y2="771.1" stroke="#066" stroke-width="3.4"/>
<polygon points="323.3,750.3 341.3,781.5 305.3,781.5" fill="#fff" stroke="#088" stroke-width="1.8"/>
<text transform="translate(391.3,786.7) scale(1,1.04)" font-size="50.6">PI-3 <tspan font-weight="normal">(</tspan>HBPDA-ODA-PPZ-10<tspan font-weight="normal">)</tspan></text>
<line x1="269" y1="834.4" x2="377.6" y2="834.4" stroke="#e0e" stroke-width="3.4"/>
<polygon points="323.3,855.2 341.3,824.0 305.3,824.0" fill="#fff" stroke="#f0f" stroke-width="1.8"/>
<text transform="translate(391.3,850.0) scale(1,1.04)" font-size="50.6">PI-4 <tspan font-weight="normal">(</tspan>HBPDA-ODA-PPZ-15<tspan font-weight="normal">)</tspan></text>
<line x1="269" y1="898.8" x2="377.6" y2="898.8" stroke="#770" stroke-width="3.4"/>
<polygon points="323.3,879.4 341.9,898.8 323.3,918.2 304.7,898.8" fill="#fff" stroke="#080" stroke-width="1.8"/>
<text transform="translate(391.3,914.4) scale(1,1.04)" font-size="50.6">PI-5 <tspan font-weight="normal">(</tspan>HBPDA-ODA-PPZ-20<tspan font-weight="normal">)</tspan></text>
<line x1="269" y1="962.1" x2="377.6" y2="962.1" stroke="#006" stroke-width="3.4"/>
<polygon points="323.3,939.5 328.3,955.2 344.8,955.1 331.5,964.8 336.6,980.4 323.3,970.7 310.0,980.4 315.1,964.8 301.8,955.1 318.3,955.2" fill="#fff" stroke="#008" stroke-width="1.8"/>
<text transform="translate(391.3,977.7) scale(1,1.04)" font-size="50.6">PI-6 <tspan font-weight="normal">(</tspan>HBPDA-ODA-PPZ-25<tspan font-weight="normal">)</tspan></text>
<line x1="268" y1="1995.6" x2="379" y2="1995.6" stroke="#333" stroke-width="3.4"/>
<path d="M324.0 1977.4V2013.8M305.8 1995.6H342.2M305.8 1977.4L342.2 2013.8M305.8 2013.8L342.2 1977.4" stroke="#000" stroke-width="1.8" fill="none"/>
<text transform="translate(392.0,2013.0) scale(1,1.04)" font-size="48.0">PPZ</text>
<line x1="268" y1="2057.0" x2="379" y2="2057.0" stroke="#d00" stroke-width="3.4"/>
<rect x="309.6" y="2042.6" width="28.9" height="28.9" fill="#fff" stroke="#f00" stroke-width="1.8"/>
<text transform="translate(392.0,2074.4) scale(1,1.04)" font-size="48.0">PI-1 <tspan font-weight="normal">(</tspan>HBPDA-ODA<tspan font-weight="normal">)</tspan></text>
<line x1="268" y1="2117.3" x2="379" y2="2117.3" stroke="#00b" stroke-width="3.4"/>
<circle cx="324.0" cy="2117.3" r="15.8" fill="#fff" stroke="#00f" stroke-width="1.8"/>
<text transform="translate(392.0,2134.7) scale(1,1.04)" font-size="48.0">PI-2 <tspan font-weight="normal">(</tspan>HBPDA-ODA-PPZ-5<tspan font-weight="normal">)</tspan></text>
<line x1="268" y1="2177.7" x2="379" y2="2177.7" stroke="#088" stroke-width="3.4"/>
<polygon points="324.0,2155.4 343.3,2188.8 304.7,2188.8" fill="#fff" stroke="#088" stroke-width="1.8"/>
<text transform="translate(392.0,2195.1) scale(1,1.04)" font-size="48.0">PI-3 <tspan font-weight="normal">(</tspan>HBPDA-ODA-PPZ-10<tspan font-weight="normal">)</tspan></text>
<line x1="268" y1="2238.5" x2="379" y2="2238.5" stroke="#e0e" stroke-width="3.4"/>
<polygon points="324.0,2260.8 343.3,2227.4 304.7,2227.4" fill="#fff" stroke="#f0f" stroke-width="1.8"/>
<text transform="translate(392.0,2255.9) scale(1,1.04)" font-size="48.0">PI-4 <tspan font-weight="normal">(</tspan>HBPDA-ODA-PPZ-15<tspan font-weight="normal">)</tspan></text>
<line x1="268" y1="2299.6" x2="379" y2="2299.6" stroke="#080" stroke-width="3.4"/>
<polygon points="324.0,2278.8 343.9,2299.6 324.0,2320.4 304.1,2299.6" fill="#fff" stroke="#080" stroke-width="1.8"/>
<text transform="translate(392.0,2317.0) scale(1,1.04)" font-size="48.0">PI-5 <tspan font-weight="normal">(</tspan>HBPDA-ODA-PPZ-20<tspan font-weight="normal">)</tspan></text>
<line x1="268" y1="2361.3" x2="379" y2="2361.3" stroke="#006" stroke-width="3.4"/>
<polygon points="324.0,2337.1 329.4,2353.9 347.0,2353.8 332.7,2364.1 338.2,2380.9 324.0,2370.5 309.8,2380.9 315.3,2364.1 301.0,2353.8 318.6,2353.9" fill="#fff" stroke="#008" stroke-width="1.8"/>
<text transform="translate(392.0,2378.7) scale(1,1.04)" font-size="48.0">PI-6 <tspan font-weight="normal">(</tspan>HBPDA-ODA-PPZ-25<tspan font-weight="normal">)</tspan></text>
</svg>
</body></html>
